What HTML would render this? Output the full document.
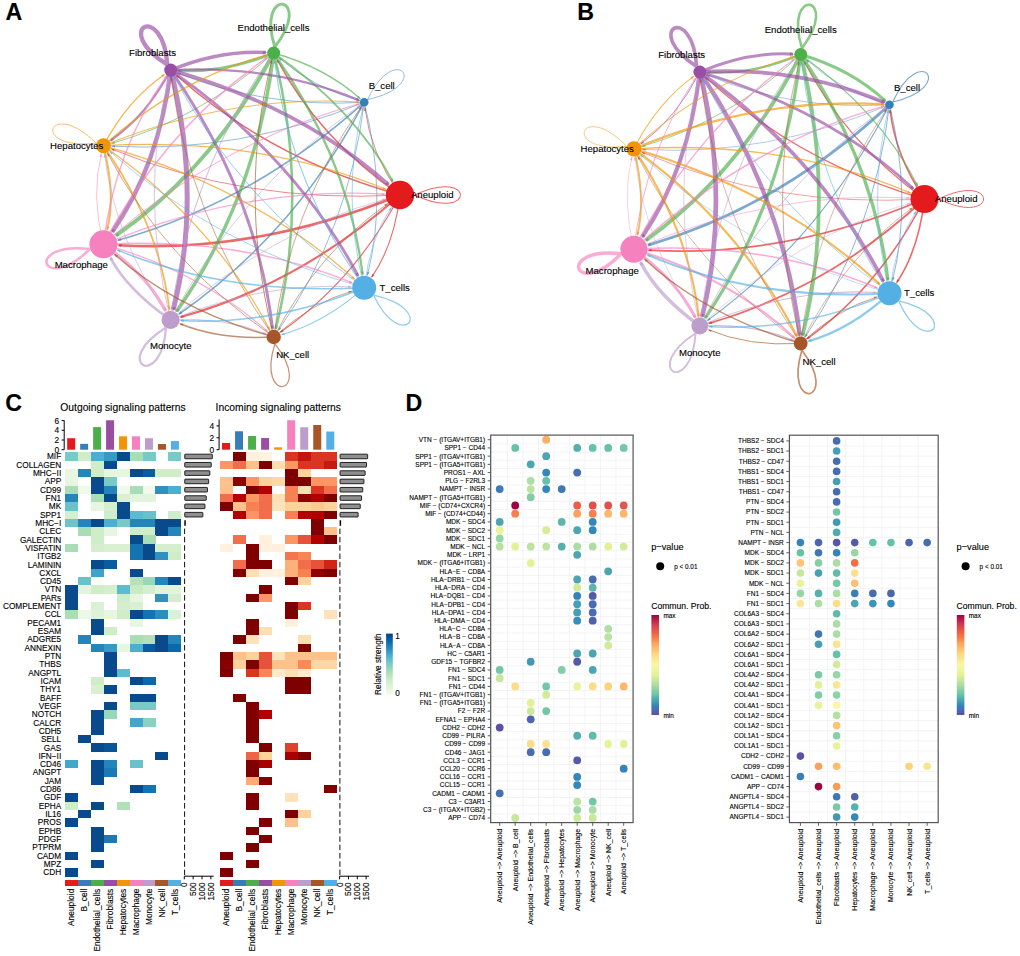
<!DOCTYPE html>
<html><head><meta charset="utf-8"><title>Figure</title>
<style>html,body{margin:0;padding:0;background:#fff}svg{display:block}text{font-family:"Liberation Sans",Arial,sans-serif;stroke:#000;stroke-width:.12px}</style>
</head><body>
<svg width="1020" height="956" viewBox="0 0 1020 956">
<rect width="1020" height="956" fill="#fff"/>
<g id="panelA">
<g opacity="1" stroke-opacity="0.66" fill-opacity="0.66" stroke-linecap="butt"><path d="M414.6 195.0C475.8 166.2 475.8 223.8 414.6 195.0" stroke="#E41A1C" stroke-width="1.01" fill="none"/><path d="M400.0 195.0Q370.3 152.7 364.9 107.8" stroke="#E41A1C" stroke-width="0.80" fill="none"/><path d="M364.7 106.4L366.4 110.6L364.1 110.9Z" fill="#E41A1C"/><path d="M400.0 195.0Q318.8 138.3 277.3 59.8" stroke="#E41A1C" stroke-width="1.45" fill="none"/><path d="M276.6 58.6L279.8 61.9L277.5 63.0Z" fill="#E41A1C"/><path d="M400.0 195.0Q269.4 158.5 176.4 75.3" stroke="#E41A1C" stroke-width="1.45" fill="none"/><path d="M175.3 74.3L179.5 76.3L177.8 78.2Z" fill="#E41A1C"/><path d="M400.0 195.0Q245.4 203.9 111.5 149.0" stroke="#E41A1C" stroke-width="0.80" fill="none"/><path d="M110.2 148.4L114.7 149.0L113.8 151.2Z" fill="#E41A1C"/><path d="M400.0 195.0Q258.0 253.2 118.6 245.2" stroke="#E41A1C" stroke-width="2.63" fill="none"/><path d="M117.2 245.1L121.7 244.0L121.5 246.8Z" fill="#E41A1C"/><path d="M400.0 195.0Q301.2 283.4 180.6 317.1" stroke="#E41A1C" stroke-width="2.09" fill="none"/><path d="M179.2 317.5L183.1 315.0L183.8 317.6Z" fill="#E41A1C"/><path d="M400.0 195.0Q354.9 280.3 280.5 332.2" stroke="#E41A1C" stroke-width="1.12" fill="none"/><path d="M279.4 333.0L282.3 329.5L283.7 331.5Z" fill="#E41A1C"/><path d="M400.0 195.0Q393.9 245.4 371.8 276.9" stroke="#E41A1C" stroke-width="1.12" fill="none"/><path d="M371.0 278.0L372.5 273.7L374.5 275.1Z" fill="#E41A1C"/><path d="M367.6 99.6C394.8 40.5 434.1 84.6 367.6 99.6" stroke="#377EB8" stroke-width="0.80" fill="none"/><path d="M364.2 102.3Q312.7 87.9 279.4 58.1" stroke="#377EB8" stroke-width="0.80" fill="none"/><path d="M278.3 57.2L282.4 59.2L280.8 61.0Z" fill="#377EB8"/><path d="M364.2 102.3Q263.3 108.1 177.8 73.0" stroke="#377EB8" stroke-width="0.80" fill="none"/><path d="M176.5 72.5L181.0 73.1L180.1 75.3Z" fill="#377EB8"/><path d="M364.2 102.3Q239.3 153.5 112.1 146.2" stroke="#377EB8" stroke-width="0.80" fill="none"/><path d="M110.7 146.1L115.2 145.2L115.0 147.5Z" fill="#377EB8"/><path d="M364.2 102.3Q251.9 202.8 118.1 240.2" stroke="#377EB8" stroke-width="1.55" fill="none"/><path d="M116.7 240.6L120.6 238.2L121.3 240.7Z" fill="#377EB8"/><path d="M364.2 102.3Q295.1 233.0 179.1 314.0" stroke="#377EB8" stroke-width="1.55" fill="none"/><path d="M177.9 314.8L180.8 311.2L182.3 313.3Z" fill="#377EB8"/><path d="M364.2 102.3Q348.8 229.9 278.5 330.1" stroke="#377EB8" stroke-width="0.80" fill="none"/><path d="M277.7 331.3L279.2 327.0L281.2 328.4Z" fill="#377EB8"/><path d="M364.2 102.3Q387.8 195.0 367.5 274.9" stroke="#377EB8" stroke-width="0.80" fill="none"/><path d="M367.1 276.3L367.1 271.7L369.4 272.3Z" fill="#377EB8"/><path d="M273.7 53.0Q354.9 109.7 392.8 181.4" stroke="#4DAF4A" stroke-width="1.88" fill="none"/><path d="M393.5 182.6L390.2 179.4L392.6 178.1Z" fill="#4DAF4A"/><path d="M273.7 53.0Q325.2 67.4 360.1 98.6" stroke="#4DAF4A" stroke-width="1.34" fill="none"/><path d="M361.2 99.6L357.1 97.6L358.7 95.7Z" fill="#4DAF4A"/><path d="M274.8 46.8C255.3 -15.0 315.5 -5.0 274.8 46.8" stroke="#4DAF4A" stroke-width="2.96" fill="none"/><path d="M273.7 53.0Q224.3 73.2 178.3 70.6" stroke="#4DAF4A" stroke-width="2.74" fill="none"/><path d="M176.9 70.5L181.4 69.3L181.3 72.2Z" fill="#4DAF4A"/><path d="M273.7 53.0Q200.3 118.6 111.8 143.3" stroke="#4DAF4A" stroke-width="0.91" fill="none"/><path d="M110.5 143.7L114.4 141.4L115.0 143.7Z" fill="#4DAF4A"/><path d="M273.7 53.0Q212.9 167.9 115.9 235.6" stroke="#4DAF4A" stroke-width="3.93" fill="none"/><path d="M114.7 236.4L117.4 232.6L119.2 235.2Z" fill="#4DAF4A"/><path d="M273.7 53.0Q256.1 198.1 176.6 311.4" stroke="#4DAF4A" stroke-width="3.50" fill="none"/><path d="M175.8 312.6L177.0 308.1L179.5 309.9Z" fill="#4DAF4A"/><path d="M273.7 53.0Q309.8 195.0 275.7 328.9" stroke="#4DAF4A" stroke-width="2.53" fill="none"/><path d="M275.4 330.2L275.1 325.6L277.8 326.3Z" fill="#4DAF4A"/><path d="M273.7 53.0Q348.8 160.1 362.6 274.6" stroke="#4DAF4A" stroke-width="2.31" fill="none"/><path d="M362.8 276.0L360.9 271.8L363.7 271.4Z" fill="#4DAF4A"/><path d="M170.7 70.1Q301.2 106.6 388.5 184.7" stroke="#984EA3" stroke-width="3.82" fill="none"/><path d="M389.6 185.7L385.2 183.9L387.3 181.6Z" fill="#984EA3"/><path d="M170.7 70.1Q271.5 64.3 359.1 100.2" stroke="#984EA3" stroke-width="2.31" fill="none"/><path d="M360.4 100.8L355.8 100.4L356.9 97.8Z" fill="#984EA3"/><path d="M170.7 70.1Q220.0 49.9 266.0 52.5" stroke="#984EA3" stroke-width="3.50" fill="none"/><path d="M267.4 52.6L262.9 53.9L263.1 50.9Z" fill="#984EA3"/><path d="M167.3 64.7C110.2 29.1 163.2 0.3 167.3 64.7" stroke="#984EA3" stroke-width="4.36" fill="none"/><path d="M170.7 70.1Q146.6 115.5 110.6 140.7" stroke="#984EA3" stroke-width="2.09" fill="none"/><path d="M109.4 141.5L112.2 137.9L113.8 140.1Z" fill="#984EA3"/><path d="M170.7 70.1Q159.2 164.8 112.2 231.9" stroke="#984EA3" stroke-width="4.36" fill="none"/><path d="M111.3 233.0L112.5 228.5L115.2 230.4Z" fill="#984EA3"/><path d="M170.7 70.1Q202.4 195.0 173.2 309.9" stroke="#984EA3" stroke-width="5.01" fill="none"/><path d="M172.8 311.3L172.3 306.6L175.6 307.4Z" fill="#984EA3"/><path d="M170.7 70.1Q256.1 191.9 272.6 328.7" stroke="#984EA3" stroke-width="2.85" fill="none"/><path d="M272.8 330.1L270.9 325.9L273.7 325.5Z" fill="#984EA3"/><path d="M170.7 70.1Q295.1 157.0 358.1 276.0" stroke="#984EA3" stroke-width="2.96" fill="none"/><path d="M358.7 277.3L355.4 274.0L357.9 272.7Z" fill="#984EA3"/><path d="M103.4 145.7Q258.0 136.8 385.8 189.2" stroke="#F29403" stroke-width="1.23" fill="none"/><path d="M387.0 189.7L382.5 189.2L383.4 186.9Z" fill="#F29403"/><path d="M103.4 145.7Q228.3 94.5 358.7 102.0" stroke="#F29403" stroke-width="1.01" fill="none"/><path d="M360.1 102.1L355.7 103.0L355.8 100.6Z" fill="#F29403"/><path d="M103.4 145.7Q176.7 80.1 266.2 55.1" stroke="#F29403" stroke-width="1.45" fill="none"/><path d="M267.6 54.7L263.7 57.1L263.0 54.6Z" fill="#F29403"/><path d="M103.4 145.7Q127.4 100.3 164.3 74.5" stroke="#F29403" stroke-width="1.45" fill="none"/><path d="M165.5 73.7L162.6 77.3L161.1 75.2Z" fill="#F29403"/><path d="M96.2 143.2C28.2 150.6 49.2 96.4 96.2 143.2" stroke="#F29403" stroke-width="0.91" fill="none"/><path d="M103.4 145.7Q116.0 195.0 107.2 229.6" stroke="#F29403" stroke-width="1.99" fill="none"/><path d="M106.8 230.9L106.6 226.4L109.2 227.0Z" fill="#F29403"/><path d="M103.4 145.7Q159.2 225.2 169.4 309.7" stroke="#F29403" stroke-width="1.77" fill="none"/><path d="M169.6 311.0L167.8 306.8L170.4 306.5Z" fill="#F29403"/><path d="M103.4 145.7Q212.9 222.1 269.7 329.6" stroke="#F29403" stroke-width="1.23" fill="none"/><path d="M270.4 330.8L267.2 327.5L269.4 326.3Z" fill="#F29403"/><path d="M103.4 145.7Q251.9 187.2 354.4 278.9" stroke="#F29403" stroke-width="1.23" fill="none"/><path d="M355.4 279.8L351.3 277.8L353.0 276.0Z" fill="#F29403"/><path d="M103.4 244.3Q245.4 186.1 384.6 194.1" stroke="#F781BF" stroke-width="1.23" fill="none"/><path d="M386.0 194.2L381.6 195.2L381.7 192.7Z" fill="#F781BF"/><path d="M103.4 244.3Q215.8 143.8 358.9 103.8" stroke="#F781BF" stroke-width="1.01" fill="none"/><path d="M360.3 103.4L356.4 105.8L355.7 103.4Z" fill="#F781BF"/><path d="M103.4 244.3Q164.2 129.4 267.3 57.4" stroke="#F781BF" stroke-width="1.55" fill="none"/><path d="M268.5 56.6L265.6 60.2L264.1 58.1Z" fill="#F781BF"/><path d="M103.4 244.3Q114.9 149.6 166.2 76.4" stroke="#F781BF" stroke-width="1.45" fill="none"/><path d="M167.0 75.3L165.5 79.6L163.5 78.1Z" fill="#F781BF"/><path d="M103.4 244.3Q90.9 195.0 101.3 154.1" stroke="#F781BF" stroke-width="0.80" fill="none"/><path d="M101.6 152.8L101.7 157.3L99.4 156.7Z" fill="#F781BF"/><path d="M89.9 249.0C42.9 295.8 21.9 241.6 89.9 249.0" stroke="#F781BF" stroke-width="2.53" fill="none"/><path d="M103.4 244.3Q146.6 274.5 165.8 310.8" stroke="#F781BF" stroke-width="2.96" fill="none"/><path d="M166.5 312.0L163.1 308.8L165.7 307.4Z" fill="#F781BF"/><path d="M103.4 244.3Q200.3 271.4 267.4 331.4" stroke="#F781BF" stroke-width="1.23" fill="none"/><path d="M268.4 332.3L264.3 330.3L266.0 328.5Z" fill="#F781BF"/><path d="M103.4 244.3Q239.3 236.5 352.0 282.7" stroke="#F781BF" stroke-width="1.45" fill="none"/><path d="M353.3 283.2L348.8 282.7L349.7 280.4Z" fill="#F781BF"/><path d="M170.6 319.9Q269.4 231.5 385.2 199.1" stroke="#BC9DCC" stroke-width="0.80" fill="none"/><path d="M386.5 198.8L382.6 201.1L382.0 198.8Z" fill="#BC9DCC"/><path d="M170.6 319.9Q239.8 189.2 359.7 105.5" stroke="#BC9DCC" stroke-width="0.80" fill="none"/><path d="M360.9 104.7L357.9 108.2L356.6 106.2Z" fill="#BC9DCC"/><path d="M170.6 319.9Q188.2 174.8 269.2 59.3" stroke="#BC9DCC" stroke-width="1.01" fill="none"/><path d="M270.0 58.1L268.5 62.5L266.5 61.0Z" fill="#BC9DCC"/><path d="M170.6 319.9Q138.9 195.0 168.8 77.6" stroke="#BC9DCC" stroke-width="0.91" fill="none"/><path d="M169.1 76.2L169.2 80.8L166.8 80.2Z" fill="#BC9DCC"/><path d="M170.6 319.9Q114.9 240.4 104.5 154.3" stroke="#BC9DCC" stroke-width="0.80" fill="none"/><path d="M104.3 152.9L106.0 157.2L103.6 157.4Z" fill="#BC9DCC"/><path d="M170.6 319.9Q127.4 289.7 110.5 257.8" stroke="#BC9DCC" stroke-width="2.74" fill="none"/><path d="M109.9 256.5L113.2 259.7L110.7 261.1Z" fill="#BC9DCC"/><path d="M166.0 327.5C161.9 391.9 108.9 363.1 166.0 327.5" stroke="#BC9DCC" stroke-width="2.26" fill="none"/><path d="M170.6 319.9Q224.3 316.8 265.9 333.8" stroke="#BC9DCC" stroke-width="0.91" fill="none"/><path d="M267.2 334.4L262.6 333.8L263.6 331.6Z" fill="#BC9DCC"/><path d="M170.6 319.9Q263.3 281.9 351.1 286.9" stroke="#BC9DCC" stroke-width="0.91" fill="none"/><path d="M352.4 287.0L348.0 288.0L348.1 285.6Z" fill="#BC9DCC"/><path d="M273.7 337.0Q318.8 251.7 387.4 203.8" stroke="#A65628" stroke-width="0.80" fill="none"/><path d="M388.5 203.0L385.6 206.5L384.2 204.6Z" fill="#A65628"/><path d="M273.7 337.0Q289.1 209.4 361.1 106.8" stroke="#A65628" stroke-width="0.80" fill="none"/><path d="M361.9 105.7L360.3 110.0L358.4 108.6Z" fill="#A65628"/><path d="M273.7 337.0Q237.5 195.0 271.8 60.5" stroke="#A65628" stroke-width="1.01" fill="none"/><path d="M272.1 59.1L272.2 63.7L269.8 63.1Z" fill="#A65628"/><path d="M273.7 337.0Q188.2 215.2 171.6 77.8" stroke="#A65628" stroke-width="0.80" fill="none"/><path d="M171.4 76.4L173.1 80.6L170.7 80.9Z" fill="#A65628"/><path d="M273.7 337.0Q164.2 260.6 107.5 153.4" stroke="#A65628" stroke-width="0.80" fill="none"/><path d="M106.8 152.1L109.9 155.5L107.8 156.6Z" fill="#A65628"/><path d="M273.7 337.0Q176.7 309.9 114.7 254.5" stroke="#A65628" stroke-width="1.45" fill="none"/><path d="M113.7 253.5L117.8 255.5L116.1 257.4Z" fill="#A65628"/><path d="M273.7 337.0Q220.0 340.1 180.2 323.8" stroke="#A65628" stroke-width="1.55" fill="none"/><path d="M178.9 323.3L183.4 323.7L182.5 326.1Z" fill="#A65628"/><path d="M274.9 343.9C315.7 395.7 255.4 405.7 274.9 343.9" stroke="#A65628" stroke-width="1.23" fill="none"/><path d="M273.7 337.0Q312.7 302.1 351.5 291.2" stroke="#A65628" stroke-width="0.80" fill="none"/><path d="M352.9 290.9L348.9 293.2L348.3 290.9Z" fill="#A65628"/><path d="M364.2 287.7Q370.3 237.3 391.2 207.6" stroke="#54B0E4" stroke-width="0.80" fill="none"/><path d="M392.0 206.5L390.4 210.7L388.5 209.4Z" fill="#54B0E4"/><path d="M364.2 287.7Q340.6 195.0 362.9 107.6" stroke="#54B0E4" stroke-width="0.80" fill="none"/><path d="M363.2 106.3L363.3 110.8L361.0 110.3Z" fill="#54B0E4"/><path d="M364.2 287.7Q289.1 180.6 274.6 60.6" stroke="#54B0E4" stroke-width="1.01" fill="none"/><path d="M274.4 59.2L276.1 63.5L273.7 63.8Z" fill="#54B0E4"/><path d="M364.2 287.7Q239.8 200.8 174.2 76.9" stroke="#54B0E4" stroke-width="0.91" fill="none"/><path d="M173.6 75.7L176.7 79.0L174.6 80.1Z" fill="#54B0E4"/><path d="M364.2 287.7Q215.8 246.2 109.9 151.5" stroke="#54B0E4" stroke-width="0.80" fill="none"/><path d="M108.9 150.5L112.9 152.6L111.3 154.4Z" fill="#54B0E4"/><path d="M364.2 287.7Q228.3 295.5 117.5 250.1" stroke="#54B0E4" stroke-width="1.55" fill="none"/><path d="M116.2 249.6L120.7 250.0L119.8 252.4Z" fill="#54B0E4"/><path d="M364.2 287.7Q271.5 325.7 180.9 320.5" stroke="#54B0E4" stroke-width="1.55" fill="none"/><path d="M179.5 320.4L184.0 319.4L183.9 321.9Z" fill="#54B0E4"/><path d="M364.2 287.7Q325.2 322.6 281.7 334.7" stroke="#54B0E4" stroke-width="1.12" fill="none"/><path d="M280.4 335.1L284.3 332.8L285.0 335.1Z" fill="#54B0E4"/><path d="M373.7 295.2C440.2 310.2 400.9 354.3 373.7 295.2" stroke="#54B0E4" stroke-width="1.23" fill="none"/></g>
<circle cx="400.0" cy="195.0" r="14.2" fill="#E41A1C"/>
<circle cx="364.2" cy="102.3" r="4.3" fill="#377EB8"/>
<circle cx="273.7" cy="53.0" r="6.5" fill="#4DAF4A"/>
<circle cx="170.7" cy="70.1" r="6.5" fill="#984EA3"/>
<circle cx="103.4" cy="145.7" r="7.5" fill="#F29403"/>
<circle cx="103.4" cy="244.3" r="14" fill="#F781BF"/>
<circle cx="170.6" cy="319.9" r="9.1" fill="#BC9DCC"/>
<circle cx="273.7" cy="337.0" r="7.2" fill="#A65628"/>
<circle cx="364.2" cy="287.7" r="12" fill="#54B0E4"/>
<text x="432.3" y="198" font-size="9.6" text-anchor="middle" fill="#000">Aneuploid</text>
<text x="381.7" y="88.5" font-size="9.6" text-anchor="middle" fill="#000">B_cell</text>
<text x="273.5" y="31" font-size="9.6" text-anchor="middle" fill="#000">Endothelial_cells</text>
<text x="152.5" y="55.5" font-size="9.6" text-anchor="middle" fill="#000">Fibroblasts</text>
<text x="76.7" y="148.5" font-size="9.6" text-anchor="middle" fill="#000">Hepatocytes</text>
<text x="81.3" y="268" font-size="9.6" text-anchor="middle" fill="#000">Macrophage</text>
<text x="170.7" y="349" font-size="9.6" text-anchor="middle" fill="#000">Monocyte</text>
<text x="292.7" y="358" font-size="9.6" text-anchor="middle" fill="#000">NK_cell</text>
<text x="394.7" y="290.5" font-size="9.6" text-anchor="middle" fill="#000">T_cells</text>
</g>
<g id="panelB">
<g opacity="1" stroke-opacity="0.66" fill-opacity="0.66" stroke-linecap="butt"><path d="M938.6 199.0C998.6 169.7 998.6 228.3 938.6 199.0" stroke="#E41A1C" stroke-width="0.99" fill="none"/><path d="M924.5 199.0Q895.4 156.0 890.1 110.2" stroke="#E41A1C" stroke-width="1.59" fill="none"/><path d="M889.9 108.8L891.7 113.0L889.2 113.3Z" fill="#E41A1C"/><path d="M924.5 199.0Q844.9 141.3 804.2 61.4" stroke="#E41A1C" stroke-width="1.11" fill="none"/><path d="M803.6 60.1L806.7 63.5L804.5 64.6Z" fill="#E41A1C"/><path d="M924.5 199.0Q796.6 161.9 705.4 77.1" stroke="#E41A1C" stroke-width="1.11" fill="none"/><path d="M704.3 76.2L708.4 78.3L706.7 80.1Z" fill="#E41A1C"/><path d="M924.5 199.0Q773.1 208.1 642.0 152.3" stroke="#E41A1C" stroke-width="0.63" fill="none"/><path d="M640.7 151.7L645.3 152.4L644.3 154.5Z" fill="#E41A1C"/><path d="M924.5 199.0Q785.4 258.2 648.6 250.1" stroke="#E41A1C" stroke-width="1.71" fill="none"/><path d="M647.2 250.0L651.7 248.9L651.5 251.5Z" fill="#E41A1C"/><path d="M924.5 199.0Q827.7 288.9 709.0 323.4" stroke="#E41A1C" stroke-width="1.71" fill="none"/><path d="M707.7 323.8L711.5 321.3L712.3 323.8Z" fill="#E41A1C"/><path d="M924.5 199.0Q880.3 285.8 807.3 338.7" stroke="#E41A1C" stroke-width="1.59" fill="none"/><path d="M806.1 339.5L808.9 335.9L810.5 338.0Z" fill="#E41A1C"/><path d="M924.5 199.0Q918.5 250.3 896.8 282.4" stroke="#E41A1C" stroke-width="1.59" fill="none"/><path d="M896.1 283.5L897.5 279.2L899.6 280.6Z" fill="#E41A1C"/><path d="M892.8 102.0C919.4 41.8 957.9 86.7 892.8 102.0" stroke="#377EB8" stroke-width="1.11" fill="none"/><path d="M889.5 104.7Q838.9 90.0 806.4 59.8" stroke="#377EB8" stroke-width="0.63" fill="none"/><path d="M805.3 58.8L809.4 61.0L807.8 62.7Z" fill="#377EB8"/><path d="M889.5 104.7Q790.6 110.6 706.8 74.9" stroke="#377EB8" stroke-width="0.63" fill="none"/><path d="M705.5 74.4L710.0 75.0L709.1 77.2Z" fill="#377EB8"/><path d="M889.5 104.7Q767.1 156.8 642.7 149.4" stroke="#377EB8" stroke-width="0.60" fill="none"/><path d="M641.3 149.3L645.8 148.4L645.6 150.7Z" fill="#377EB8"/><path d="M889.5 104.7Q779.4 207.0 648.1 245.1" stroke="#377EB8" stroke-width="2.91" fill="none"/><path d="M646.7 245.5L650.5 242.9L651.3 245.6Z" fill="#377EB8"/><path d="M889.5 104.7Q821.7 237.7 707.6 320.4" stroke="#377EB8" stroke-width="1.11" fill="none"/><path d="M706.4 321.2L709.3 317.7L710.7 319.7Z" fill="#377EB8"/><path d="M889.5 104.7Q874.3 234.5 805.2 336.8" stroke="#377EB8" stroke-width="0.87" fill="none"/><path d="M804.5 337.9L805.9 333.6L807.9 334.9Z" fill="#377EB8"/><path d="M889.5 104.7Q912.6 199.0 892.6 280.5" stroke="#377EB8" stroke-width="0.87" fill="none"/><path d="M892.3 281.8L892.1 277.3L894.5 277.8Z" fill="#377EB8"/><path d="M800.7 54.5Q880.3 112.2 917.6 185.5" stroke="#4DAF4A" stroke-width="1.11" fill="none"/><path d="M918.2 186.7L915.1 183.3L917.3 182.2Z" fill="#4DAF4A"/><path d="M800.7 54.5Q851.2 69.2 885.4 101.0" stroke="#4DAF4A" stroke-width="2.91" fill="none"/><path d="M886.4 101.9L882.2 100.0L884.2 97.9Z" fill="#4DAF4A"/><path d="M801.9 48.2C782.8 -14.7 841.8 -4.5 801.9 48.2" stroke="#4DAF4A" stroke-width="2.55" fill="none"/><path d="M800.7 54.5Q752.4 75.1 707.4 72.4" stroke="#4DAF4A" stroke-width="2.31" fill="none"/><path d="M706.0 72.3L710.5 71.2L710.3 74.0Z" fill="#4DAF4A"/><path d="M800.7 54.5Q728.9 121.3 642.4 146.4" stroke="#4DAF4A" stroke-width="0.87" fill="none"/><path d="M641.0 146.8L644.9 144.4L645.6 146.7Z" fill="#4DAF4A"/><path d="M800.7 54.5Q741.2 171.5 645.8 240.5" stroke="#4DAF4A" stroke-width="3.75" fill="none"/><path d="M644.7 241.4L647.4 237.5L649.2 240.0Z" fill="#4DAF4A"/><path d="M800.7 54.5Q783.5 202.1 705.2 318.1" stroke="#4DAF4A" stroke-width="3.15" fill="none"/><path d="M704.4 319.3L705.6 314.8L708.1 316.4Z" fill="#4DAF4A"/><path d="M800.7 54.5Q836.1 199.0 802.6 335.6" stroke="#4DAF4A" stroke-width="3.75" fill="none"/><path d="M802.3 337.0L801.8 332.3L804.9 333.1Z" fill="#4DAF4A"/><path d="M800.7 54.5Q874.3 163.5 887.9 280.2" stroke="#4DAF4A" stroke-width="3.27" fill="none"/><path d="M888.1 281.6L886.1 277.4L889.1 277.0Z" fill="#4DAF4A"/><path d="M699.8 72.0Q827.7 109.1 913.4 188.7" stroke="#984EA3" stroke-width="2.79" fill="none"/><path d="M914.4 189.6L910.2 187.7L912.1 185.6Z" fill="#984EA3"/><path d="M699.8 72.0Q798.6 66.0 884.4 102.5" stroke="#984EA3" stroke-width="3.75" fill="none"/><path d="M885.7 103.1L881.0 102.8L882.2 99.9Z" fill="#984EA3"/><path d="M699.8 72.0Q748.1 51.4 793.0 54.1" stroke="#984EA3" stroke-width="3.15" fill="none"/><path d="M794.4 54.2L789.9 55.4L790.1 52.4Z" fill="#984EA3"/><path d="M696.6 66.5C640.7 30.3 692.6 1.0 696.6 66.5" stroke="#984EA3" stroke-width="3.63" fill="none"/><path d="M699.8 72.0Q676.3 118.1 641.1 143.7" stroke="#984EA3" stroke-width="0.99" fill="none"/><path d="M639.9 144.5L642.8 140.9L644.2 142.9Z" fill="#984EA3"/><path d="M699.8 72.0Q688.6 168.3 642.2 237.0" stroke="#984EA3" stroke-width="4.11" fill="none"/><path d="M641.4 238.2L642.5 233.6L645.2 235.4Z" fill="#984EA3"/><path d="M699.8 72.0Q730.9 199.0 702.1 316.7" stroke="#984EA3" stroke-width="4.71" fill="none"/><path d="M701.8 318.1L701.2 313.4L704.4 314.2Z" fill="#984EA3"/><path d="M699.8 72.0Q783.5 195.9 799.8 335.4" stroke="#984EA3" stroke-width="4.35" fill="none"/><path d="M799.9 336.8L797.8 332.6L801.0 332.3Z" fill="#984EA3"/><path d="M699.8 72.0Q821.7 160.3 883.5 281.5" stroke="#984EA3" stroke-width="3.75" fill="none"/><path d="M884.1 282.8L880.7 279.6L883.5 278.2Z" fill="#984EA3"/><path d="M633.9 148.8Q785.4 139.8 910.5 193.0" stroke="#F29403" stroke-width="1.35" fill="none"/><path d="M911.8 193.6L907.3 193.0L908.2 190.7Z" fill="#F29403"/><path d="M633.9 148.8Q756.3 96.7 884.0 104.4" stroke="#F29403" stroke-width="2.31" fill="none"/><path d="M885.4 104.5L880.9 105.6L881.1 102.8Z" fill="#F29403"/><path d="M633.9 148.8Q705.8 82.1 793.3 56.7" stroke="#F29403" stroke-width="1.11" fill="none"/><path d="M794.7 56.3L790.8 58.7L790.1 56.3Z" fill="#F29403"/><path d="M633.9 148.8Q657.4 102.6 693.6 76.4" stroke="#F29403" stroke-width="1.11" fill="none"/><path d="M694.8 75.6L691.9 79.2L690.5 77.2Z" fill="#F29403"/><path d="M626.7 146.3C560.2 153.8 580.7 98.6 626.7 146.3" stroke="#F29403" stroke-width="0.75" fill="none"/><path d="M633.9 148.8Q646.2 199.0 637.4 234.9" stroke="#F29403" stroke-width="1.83" fill="none"/><path d="M637.1 236.3L636.9 231.7L639.4 232.3Z" fill="#F29403"/><path d="M633.9 148.8Q688.6 229.7 698.7 316.5" stroke="#F29403" stroke-width="2.07" fill="none"/><path d="M698.9 317.9L697.0 313.7L699.7 313.4Z" fill="#F29403"/><path d="M633.9 148.8Q741.2 226.5 797.0 336.3" stroke="#F29403" stroke-width="2.19" fill="none"/><path d="M797.7 337.5L794.5 334.2L796.9 333.0Z" fill="#F29403"/><path d="M633.9 148.8Q779.4 191.0 879.8 284.3" stroke="#F29403" stroke-width="2.07" fill="none"/><path d="M880.8 285.3L876.7 283.3L878.5 281.3Z" fill="#F29403"/><path d="M633.9 249.2Q773.1 189.9 909.3 198.1" stroke="#F781BF" stroke-width="0.75" fill="none"/><path d="M910.7 198.2L906.3 199.1L906.4 196.7Z" fill="#F781BF"/><path d="M633.9 249.2Q744.0 146.9 884.2 106.2" stroke="#F781BF" stroke-width="1.35" fill="none"/><path d="M885.5 105.8L881.6 108.3L880.9 105.9Z" fill="#F781BF"/><path d="M633.9 249.2Q693.5 132.3 794.5 59.0" stroke="#F781BF" stroke-width="1.23" fill="none"/><path d="M795.6 58.2L792.8 61.8L791.3 59.8Z" fill="#F781BF"/><path d="M633.9 249.2Q645.2 152.8 695.5 78.3" stroke="#F781BF" stroke-width="0.99" fill="none"/><path d="M696.3 77.1L694.9 81.4L692.9 80.1Z" fill="#F781BF"/><path d="M633.9 249.2Q621.6 199.0 631.8 157.4" stroke="#F781BF" stroke-width="0.60" fill="none"/><path d="M632.2 156.0L632.3 160.6L630.0 160.0Z" fill="#F781BF"/><path d="M621.1 253.7C575.1 301.4 554.6 246.2 621.1 253.7" stroke="#F781BF" stroke-width="3.39" fill="none"/><path d="M633.9 249.2Q676.3 279.9 695.4 317.5" stroke="#F781BF" stroke-width="2.79" fill="none"/><path d="M696.1 318.7L692.8 315.5L695.4 314.2Z" fill="#F781BF"/><path d="M633.9 249.2Q728.9 276.7 794.8 338.0" stroke="#F781BF" stroke-width="2.07" fill="none"/><path d="M795.8 338.9L791.7 336.9L793.5 334.9Z" fill="#F781BF"/><path d="M633.9 249.2Q767.1 241.2 877.3 288.1" stroke="#F781BF" stroke-width="1.59" fill="none"/><path d="M878.6 288.7L874.0 288.1L875.1 285.8Z" fill="#F781BF"/><path d="M699.8 326.0Q796.6 236.1 909.9 203.2" stroke="#BC9DCC" stroke-width="0.63" fill="none"/><path d="M911.2 202.8L907.3 205.2L906.7 202.9Z" fill="#BC9DCC"/><path d="M699.8 326.0Q767.5 193.1 885.0 107.9" stroke="#BC9DCC" stroke-width="0.87" fill="none"/><path d="M886.1 107.1L883.3 110.7L881.9 108.7Z" fill="#BC9DCC"/><path d="M699.8 326.0Q717.0 178.4 796.4 60.9" stroke="#BC9DCC" stroke-width="0.87" fill="none"/><path d="M797.2 59.7L795.7 64.1L793.7 62.7Z" fill="#BC9DCC"/><path d="M699.8 326.0Q668.7 199.0 698.0 79.3" stroke="#BC9DCC" stroke-width="0.75" fill="none"/><path d="M698.3 78.0L698.4 82.5L696.1 82.0Z" fill="#BC9DCC"/><path d="M699.8 326.0Q645.2 245.2 635.0 157.6" stroke="#BC9DCC" stroke-width="0.60" fill="none"/><path d="M634.8 156.2L636.5 160.4L634.1 160.7Z" fill="#BC9DCC"/><path d="M699.8 326.0Q657.4 295.4 640.6 262.3" stroke="#BC9DCC" stroke-width="3.51" fill="none"/><path d="M640.0 261.0L643.3 264.3L640.6 265.6Z" fill="#BC9DCC"/><path d="M695.6 333.2C691.5 398.7 639.6 369.4 695.6 333.2" stroke="#BC9DCC" stroke-width="1.95" fill="none"/><path d="M699.8 326.0Q752.4 322.9 793.3 340.3" stroke="#BC9DCC" stroke-width="1.23" fill="none"/><path d="M794.5 340.8L790.0 340.3L791.0 338.0Z" fill="#BC9DCC"/><path d="M699.8 326.0Q790.6 287.4 876.3 292.5" stroke="#BC9DCC" stroke-width="1.11" fill="none"/><path d="M877.7 292.6L873.2 293.6L873.4 291.1Z" fill="#BC9DCC"/><path d="M800.7 343.5Q844.9 256.7 912.2 207.9" stroke="#A65628" stroke-width="0.63" fill="none"/><path d="M913.3 207.1L910.5 210.6L909.1 208.7Z" fill="#A65628"/><path d="M800.7 343.5Q815.8 213.7 886.4 109.3" stroke="#A65628" stroke-width="0.63" fill="none"/><path d="M887.2 108.1L885.7 112.4L883.7 111.1Z" fill="#A65628"/><path d="M800.7 343.5Q765.3 199.0 798.9 62.0" stroke="#A65628" stroke-width="0.75" fill="none"/><path d="M799.2 60.6L799.3 65.2L797.0 64.6Z" fill="#A65628"/><path d="M800.7 343.5Q717.0 219.6 700.7 79.5" stroke="#A65628" stroke-width="0.63" fill="none"/><path d="M700.5 78.1L702.2 82.3L699.9 82.6Z" fill="#A65628"/><path d="M800.7 343.5Q693.5 265.7 637.9 156.7" stroke="#A65628" stroke-width="0.60" fill="none"/><path d="M637.3 155.4L640.3 158.8L638.2 159.9Z" fill="#A65628"/><path d="M800.7 343.5Q705.8 315.9 644.7 259.2" stroke="#A65628" stroke-width="1.35" fill="none"/><path d="M643.7 258.2L647.8 260.3L646.0 262.1Z" fill="#A65628"/><path d="M800.7 343.5Q748.1 346.6 708.6 329.8" stroke="#A65628" stroke-width="0.99" fill="none"/><path d="M707.3 329.3L711.9 329.9L710.9 332.1Z" fill="#A65628"/><path d="M801.9 350.2C841.8 402.9 782.8 413.1 801.9 350.2" stroke="#A65628" stroke-width="1.71" fill="none"/><path d="M800.7 343.5Q838.9 308.0 876.8 297.0" stroke="#A65628" stroke-width="0.87" fill="none"/><path d="M878.1 296.6L874.2 299.0L873.6 296.7Z" fill="#A65628"/><path d="M889.5 293.3Q895.4 242.0 916.0 211.6" stroke="#54B0E4" stroke-width="0.75" fill="none"/><path d="M916.8 210.4L915.3 214.7L913.3 213.4Z" fill="#54B0E4"/><path d="M889.5 293.3Q866.3 199.0 888.1 110.0" stroke="#54B0E4" stroke-width="0.75" fill="none"/><path d="M888.5 108.7L888.6 113.2L886.3 112.7Z" fill="#54B0E4"/><path d="M889.5 293.3Q815.8 184.3 801.6 62.2" stroke="#54B0E4" stroke-width="0.87" fill="none"/><path d="M801.4 60.8L803.1 65.0L800.8 65.3Z" fill="#54B0E4"/><path d="M889.5 293.3Q767.5 204.9 703.2 78.7" stroke="#54B0E4" stroke-width="0.75" fill="none"/><path d="M702.6 77.5L705.7 80.9L703.5 81.9Z" fill="#54B0E4"/><path d="M889.5 293.3Q744.0 251.1 640.4 154.8" stroke="#54B0E4" stroke-width="0.60" fill="none"/><path d="M639.4 153.9L643.4 156.0L641.8 157.7Z" fill="#54B0E4"/><path d="M889.5 293.3Q756.3 301.3 647.5 254.9" stroke="#54B0E4" stroke-width="2.07" fill="none"/><path d="M646.2 254.4L650.7 254.9L649.7 257.3Z" fill="#54B0E4"/><path d="M889.5 293.3Q798.6 332.0 709.4 326.6" stroke="#54B0E4" stroke-width="1.35" fill="none"/><path d="M708.0 326.5L712.5 325.5L712.3 328.1Z" fill="#54B0E4"/><path d="M889.5 293.3Q851.2 328.8 808.5 341.2" stroke="#54B0E4" stroke-width="2.31" fill="none"/><path d="M807.1 341.6L811.0 339.1L811.8 341.7Z" fill="#54B0E4"/><path d="M898.7 300.9C963.9 316.2 925.4 361.1 898.7 300.9" stroke="#54B0E4" stroke-width="1.35" fill="none"/></g>
<circle cx="924.5" cy="199.0" r="14" fill="#E41A1C"/>
<circle cx="889.5" cy="104.7" r="4.3" fill="#377EB8"/>
<circle cx="800.7" cy="54.5" r="6.5" fill="#4DAF4A"/>
<circle cx="699.8" cy="72.0" r="6.4" fill="#984EA3"/>
<circle cx="633.9" cy="148.8" r="7.6" fill="#F29403"/>
<circle cx="633.9" cy="249.2" r="13.5" fill="#F781BF"/>
<circle cx="699.8" cy="326.0" r="8.4" fill="#BC9DCC"/>
<circle cx="800.7" cy="343.5" r="6.9" fill="#A65628"/>
<circle cx="889.5" cy="293.3" r="12" fill="#54B0E4"/>
<text x="956.2" y="201.5" font-size="9.6" text-anchor="middle" fill="#000">Aneuploid</text>
<text x="907" y="91" font-size="9.6" text-anchor="middle" fill="#000">B_cell</text>
<text x="800.7" y="32.5" font-size="9.6" text-anchor="middle" fill="#000">Endothelial_cells</text>
<text x="681.7" y="57.5" font-size="9.6" text-anchor="middle" fill="#000">Fibroblasts</text>
<text x="607.2" y="151.5" font-size="9.6" text-anchor="middle" fill="#000">Hepatocytes</text>
<text x="612.2" y="273.5" font-size="9.6" text-anchor="middle" fill="#000">Macrophage</text>
<text x="699.7" y="355.5" font-size="9.6" text-anchor="middle" fill="#000">Monocyte</text>
<text x="819" y="364.5" font-size="9.6" text-anchor="middle" fill="#000">NK_cell</text>
<text x="919.2" y="296" font-size="9.6" text-anchor="middle" fill="#000">T_cells</text>
</g>
<text x="5.4" y="20" font-size="23.2" font-weight="bold" fill="#000">A</text>
<text x="577.2" y="20" font-size="23.2" font-weight="bold" fill="#000">B</text>
<text x="5.2" y="411.2" font-size="23.2" font-weight="bold" fill="#000">C</text>
<text x="405.6" y="410.9" font-size="23.2" font-weight="bold" fill="#000">D</text>
<g shape-rendering="crispEdges"><rect x="64.70" y="452.30" width="13.02" height="8.37" fill="#77cac6"/><rect x="77.67" y="452.30" width="13.02" height="8.37" fill="#d0edc9"/><rect x="90.63" y="452.30" width="13.02" height="8.37" fill="#4bafd1"/><rect x="103.60" y="452.30" width="13.02" height="8.37" fill="#379ac5"/><rect x="116.57" y="452.30" width="13.02" height="8.37" fill="#084a8c"/><rect x="129.53" y="452.30" width="13.02" height="8.37" fill="#a8ddb5"/><rect x="142.50" y="452.30" width="13.02" height="8.37" fill="#77cac6"/><rect x="168.43" y="452.30" width="13.02" height="8.37" fill="#77cac6"/><rect x="90.63" y="460.62" width="13.02" height="8.37" fill="#d0edc9"/><rect x="103.60" y="460.62" width="13.02" height="8.37" fill="#084a8c"/><rect x="64.70" y="468.94" width="13.02" height="8.37" fill="#e7f6e1"/><rect x="77.67" y="468.94" width="13.02" height="8.37" fill="#2485ba"/><rect x="90.63" y="468.94" width="13.02" height="8.37" fill="#d0edc9"/><rect x="103.60" y="468.94" width="13.02" height="8.37" fill="#e7f6e1"/><rect x="116.57" y="468.94" width="13.02" height="8.37" fill="#e7f6e1"/><rect x="129.53" y="468.94" width="13.02" height="8.37" fill="#084a8c"/><rect x="142.50" y="468.94" width="13.02" height="8.37" fill="#085da0"/><rect x="155.47" y="468.94" width="13.02" height="8.37" fill="#d0edc9"/><rect x="168.43" y="468.94" width="13.02" height="8.37" fill="#d0edc9"/><rect x="64.70" y="477.25" width="13.02" height="8.37" fill="#e7f6e1"/><rect x="90.63" y="477.25" width="13.02" height="8.37" fill="#084a8c"/><rect x="103.60" y="477.25" width="13.02" height="8.37" fill="#77cac6"/><rect x="64.70" y="485.57" width="13.02" height="8.37" fill="#a8ddb5"/><rect x="77.67" y="485.57" width="13.02" height="8.37" fill="#f0f9ea"/><rect x="90.63" y="485.57" width="13.02" height="8.37" fill="#084a8c"/><rect x="103.60" y="485.57" width="13.02" height="8.37" fill="#2485ba"/><rect x="116.57" y="485.57" width="13.02" height="8.37" fill="#f0f9ea"/><rect x="129.53" y="485.57" width="13.02" height="8.37" fill="#a8ddb5"/><rect x="142.50" y="485.57" width="13.02" height="8.37" fill="#f0f9ea"/><rect x="155.47" y="485.57" width="13.02" height="8.37" fill="#3091c1"/><rect x="168.43" y="485.57" width="13.02" height="8.37" fill="#4bafd1"/><rect x="64.70" y="493.89" width="13.02" height="8.37" fill="#2485ba"/><rect x="90.63" y="493.89" width="13.02" height="8.37" fill="#a8ddb5"/><rect x="103.60" y="493.89" width="13.02" height="8.37" fill="#084a8c"/><rect x="116.57" y="493.89" width="13.02" height="8.37" fill="#d9f0d3"/><rect x="129.53" y="493.89" width="13.02" height="8.37" fill="#e2f4dd"/><rect x="142.50" y="493.89" width="13.02" height="8.37" fill="#e2f4dd"/><rect x="64.70" y="502.21" width="13.02" height="8.37" fill="#69c2ca"/><rect x="90.63" y="502.21" width="13.02" height="8.37" fill="#e7f6e1"/><rect x="103.60" y="502.21" width="13.02" height="8.37" fill="#d4eece"/><rect x="116.57" y="502.21" width="13.02" height="8.37" fill="#084a8c"/><rect x="64.70" y="510.52" width="13.02" height="8.37" fill="#d4eece"/><rect x="103.60" y="510.52" width="13.02" height="8.37" fill="#d0edc9"/><rect x="116.57" y="510.52" width="13.02" height="8.37" fill="#084a8c"/><rect x="129.53" y="510.52" width="13.02" height="8.37" fill="#5cbbce"/><rect x="142.50" y="510.52" width="13.02" height="8.37" fill="#69c2ca"/><rect x="168.43" y="510.52" width="13.02" height="8.37" fill="#d0edc9"/><rect x="64.70" y="518.84" width="13.02" height="8.37" fill="#6ec4c8"/><rect x="77.67" y="518.84" width="13.02" height="8.37" fill="#2485ba"/><rect x="90.63" y="518.84" width="13.02" height="8.37" fill="#084a8c"/><rect x="103.60" y="518.84" width="13.02" height="8.37" fill="#4bafd1"/><rect x="116.57" y="518.84" width="13.02" height="8.37" fill="#77cac6"/><rect x="129.53" y="518.84" width="13.02" height="8.37" fill="#2485ba"/><rect x="142.50" y="518.84" width="13.02" height="8.37" fill="#2485ba"/><rect x="155.47" y="518.84" width="13.02" height="8.37" fill="#084a8c"/><rect x="168.43" y="518.84" width="13.02" height="8.37" fill="#084a8c"/><rect x="77.67" y="527.16" width="13.02" height="8.37" fill="#a8ddb5"/><rect x="90.63" y="527.16" width="13.02" height="8.37" fill="#d0edc9"/><rect x="103.60" y="527.16" width="13.02" height="8.37" fill="#e7f6e1"/><rect x="129.53" y="527.16" width="13.02" height="8.37" fill="#d0edc9"/><rect x="142.50" y="527.16" width="13.02" height="8.37" fill="#d0edc9"/><rect x="155.47" y="527.16" width="13.02" height="8.37" fill="#084a8c"/><rect x="168.43" y="527.16" width="13.02" height="8.37" fill="#2485ba"/><rect x="90.63" y="535.48" width="13.02" height="8.37" fill="#d0edc9"/><rect x="129.53" y="535.48" width="13.02" height="8.37" fill="#084a8c"/><rect x="142.50" y="535.48" width="13.02" height="8.37" fill="#a8ddb5"/><rect x="64.70" y="543.79" width="13.02" height="8.37" fill="#a8ddb5"/><rect x="90.63" y="543.79" width="13.02" height="8.37" fill="#d4eece"/><rect x="103.60" y="543.79" width="13.02" height="8.37" fill="#d9f0d3"/><rect x="116.57" y="543.79" width="13.02" height="8.37" fill="#d9f0d3"/><rect x="129.53" y="543.79" width="13.02" height="8.37" fill="#1474b2"/><rect x="142.50" y="543.79" width="13.02" height="8.37" fill="#084a8c"/><rect x="155.47" y="543.79" width="13.02" height="8.37" fill="#d4eece"/><rect x="168.43" y="543.79" width="13.02" height="8.37" fill="#d4eece"/><rect x="129.53" y="552.11" width="13.02" height="8.37" fill="#1474b2"/><rect x="142.50" y="552.11" width="13.02" height="8.37" fill="#084a8c"/><rect x="155.47" y="552.11" width="13.02" height="8.37" fill="#3091c1"/><rect x="168.43" y="552.11" width="13.02" height="8.37" fill="#d0edc9"/><rect x="90.63" y="560.43" width="13.02" height="8.37" fill="#084a8c"/><rect x="103.60" y="560.43" width="13.02" height="8.37" fill="#085da0"/><rect x="90.63" y="568.75" width="13.02" height="8.37" fill="#3fa2ca"/><rect x="129.53" y="568.75" width="13.02" height="8.37" fill="#084a8c"/><rect x="77.67" y="577.06" width="13.02" height="8.37" fill="#69c2ca"/><rect x="129.53" y="577.06" width="13.02" height="8.37" fill="#b5e2bb"/><rect x="142.50" y="577.06" width="13.02" height="8.37" fill="#99d7ba"/><rect x="155.47" y="577.06" width="13.02" height="8.37" fill="#2485ba"/><rect x="168.43" y="577.06" width="13.02" height="8.37" fill="#084a8c"/><rect x="64.70" y="585.38" width="13.02" height="8.37" fill="#084a8c"/><rect x="77.67" y="585.38" width="13.02" height="8.37" fill="#e2f4dd"/><rect x="90.63" y="585.38" width="13.02" height="8.37" fill="#d0edc9"/><rect x="103.60" y="585.38" width="13.02" height="8.37" fill="#d4eece"/><rect x="116.57" y="585.38" width="13.02" height="8.37" fill="#5cbbce"/><rect x="129.53" y="585.38" width="13.02" height="8.37" fill="#cbeac4"/><rect x="142.50" y="585.38" width="13.02" height="8.37" fill="#d4eece"/><rect x="155.47" y="585.38" width="13.02" height="8.37" fill="#e2f4dd"/><rect x="168.43" y="585.38" width="13.02" height="8.37" fill="#e2f4dd"/><rect x="64.70" y="593.70" width="13.02" height="8.37" fill="#084a8c"/><rect x="116.57" y="593.70" width="13.02" height="8.37" fill="#d0edc9"/><rect x="129.53" y="593.70" width="13.02" height="8.37" fill="#e7f6e1"/><rect x="155.47" y="593.70" width="13.02" height="8.37" fill="#3091c1"/><rect x="168.43" y="593.70" width="13.02" height="8.37" fill="#d4eece"/><rect x="64.70" y="602.02" width="13.02" height="8.37" fill="#084a8c"/><rect x="90.63" y="602.02" width="13.02" height="8.37" fill="#dbf1d6"/><rect x="116.57" y="602.02" width="13.02" height="8.37" fill="#d4eece"/><rect x="129.53" y="602.02" width="13.02" height="8.37" fill="#d9f0d3"/><rect x="64.70" y="610.34" width="13.02" height="8.37" fill="#a8ddb5"/><rect x="77.67" y="610.34" width="13.02" height="8.37" fill="#ecf8e6"/><rect x="90.63" y="610.34" width="13.02" height="8.37" fill="#ddf2d8"/><rect x="103.60" y="610.34" width="13.02" height="8.37" fill="#e7f6e1"/><rect x="116.57" y="610.34" width="13.02" height="8.37" fill="#d0edc9"/><rect x="129.53" y="610.34" width="13.02" height="8.37" fill="#084a8c"/><rect x="142.50" y="610.34" width="13.02" height="8.37" fill="#1474b2"/><rect x="155.47" y="610.34" width="13.02" height="8.37" fill="#2c8dbe"/><rect x="168.43" y="610.34" width="13.02" height="8.37" fill="#dbf1d6"/><rect x="90.63" y="618.65" width="13.02" height="8.37" fill="#084a8c"/><rect x="129.53" y="618.65" width="13.02" height="8.37" fill="#e7f6e1"/><rect x="90.63" y="626.97" width="13.02" height="8.37" fill="#084a8c"/><rect x="103.60" y="626.97" width="13.02" height="8.37" fill="#d0edc9"/><rect x="77.67" y="635.29" width="13.02" height="8.37" fill="#2485ba"/><rect x="129.53" y="635.29" width="13.02" height="8.37" fill="#a8ddb5"/><rect x="142.50" y="635.29" width="13.02" height="8.37" fill="#b1e0b9"/><rect x="155.47" y="635.29" width="13.02" height="8.37" fill="#084a8c"/><rect x="168.43" y="635.29" width="13.02" height="8.37" fill="#2485ba"/><rect x="90.63" y="643.61" width="13.02" height="8.37" fill="#2485ba"/><rect x="103.60" y="643.61" width="13.02" height="8.37" fill="#379ac5"/><rect x="116.57" y="643.61" width="13.02" height="8.37" fill="#e7f6e1"/><rect x="129.53" y="643.61" width="13.02" height="8.37" fill="#4bafd1"/><rect x="142.50" y="643.61" width="13.02" height="8.37" fill="#085da0"/><rect x="155.47" y="643.61" width="13.02" height="8.37" fill="#084a8c"/><rect x="168.43" y="643.61" width="13.02" height="8.37" fill="#0969ac"/><rect x="103.60" y="651.92" width="13.02" height="8.37" fill="#084a8c"/><rect x="103.60" y="660.24" width="13.02" height="8.37" fill="#084a8c"/><rect x="103.60" y="668.56" width="13.02" height="8.37" fill="#084a8c"/><rect x="116.57" y="668.56" width="13.02" height="8.37" fill="#5cbbce"/><rect x="90.63" y="676.88" width="13.02" height="8.37" fill="#d0edc9"/><rect x="129.53" y="676.88" width="13.02" height="8.37" fill="#084a8c"/><rect x="142.50" y="676.88" width="13.02" height="8.37" fill="#0969ac"/><rect x="90.63" y="685.19" width="13.02" height="8.37" fill="#d9f0d3"/><rect x="103.60" y="685.19" width="13.02" height="8.37" fill="#084a8c"/><rect x="129.53" y="693.51" width="13.02" height="8.37" fill="#084a8c"/><rect x="142.50" y="693.51" width="13.02" height="8.37" fill="#084a8c"/><rect x="103.60" y="701.83" width="13.02" height="8.37" fill="#084a8c"/><rect x="129.53" y="701.83" width="13.02" height="8.37" fill="#77cac6"/><rect x="142.50" y="701.83" width="13.02" height="8.37" fill="#77cac6"/><rect x="90.63" y="710.15" width="13.02" height="8.37" fill="#084a8c"/><rect x="103.60" y="710.15" width="13.02" height="8.37" fill="#99d7ba"/><rect x="90.63" y="718.46" width="13.02" height="8.37" fill="#084a8c"/><rect x="129.53" y="718.46" width="13.02" height="8.37" fill="#43a7cc"/><rect x="142.50" y="718.46" width="13.02" height="8.37" fill="#8ad2bf"/><rect x="90.63" y="726.78" width="13.02" height="8.37" fill="#084a8c"/><rect x="77.67" y="735.10" width="13.02" height="8.37" fill="#084a8c"/><rect x="90.63" y="743.42" width="13.02" height="8.37" fill="#084a8c"/><rect x="103.60" y="743.42" width="13.02" height="8.37" fill="#085699"/><rect x="155.47" y="751.74" width="13.02" height="8.37" fill="#084a8c"/><rect x="64.70" y="760.05" width="13.02" height="8.37" fill="#43a7cc"/><rect x="90.63" y="760.05" width="13.02" height="8.37" fill="#084a8c"/><rect x="103.60" y="760.05" width="13.02" height="8.37" fill="#2485ba"/><rect x="129.53" y="760.05" width="13.02" height="8.37" fill="#69c2ca"/><rect x="90.63" y="768.37" width="13.02" height="8.37" fill="#084a8c"/><rect x="103.60" y="768.37" width="13.02" height="8.37" fill="#197ab5"/><rect x="90.63" y="776.69" width="13.02" height="8.37" fill="#084a8c"/><rect x="129.53" y="785.01" width="13.02" height="8.37" fill="#084a8c"/><rect x="142.50" y="785.01" width="13.02" height="8.37" fill="#1474b2"/><rect x="64.70" y="793.32" width="13.02" height="8.37" fill="#084a8c"/><rect x="64.70" y="801.64" width="13.02" height="8.37" fill="#d0edc9"/><rect x="90.63" y="801.64" width="13.02" height="8.37" fill="#084a8c"/><rect x="116.57" y="801.64" width="13.02" height="8.37" fill="#b1e0b9"/><rect x="77.67" y="809.96" width="13.02" height="8.37" fill="#084a8c"/><rect x="64.70" y="818.28" width="13.02" height="8.37" fill="#084a8c"/><rect x="90.63" y="826.59" width="13.02" height="8.37" fill="#084a8c"/><rect x="90.63" y="834.91" width="13.02" height="8.37" fill="#084a8c"/><rect x="103.60" y="834.91" width="13.02" height="8.37" fill="#197ab5"/><rect x="90.63" y="843.23" width="13.02" height="8.37" fill="#084a8c"/><rect x="64.70" y="851.55" width="13.02" height="8.37" fill="#084a8c"/><rect x="90.63" y="859.86" width="13.02" height="8.37" fill="#084a8c"/><rect x="64.70" y="868.18" width="13.02" height="8.37" fill="#084a8c"/></g>
<g shape-rendering="crispEdges"><rect x="64.70" y="879.6" width="13.02" height="5.9" fill="#E41A1C"/><rect x="77.67" y="879.6" width="13.02" height="5.9" fill="#377EB8"/><rect x="90.63" y="879.6" width="13.02" height="5.9" fill="#4DAF4A"/><rect x="103.60" y="879.6" width="13.02" height="5.9" fill="#984EA3"/><rect x="116.57" y="879.6" width="13.02" height="5.9" fill="#F29403"/><rect x="129.53" y="879.6" width="13.02" height="5.9" fill="#F781BF"/><rect x="142.50" y="879.6" width="13.02" height="5.9" fill="#BC9DCC"/><rect x="155.47" y="879.6" width="13.02" height="5.9" fill="#A65628"/><rect x="168.43" y="879.6" width="13.02" height="5.9" fill="#54B0E4"/></g>
<text transform="translate(74.18,888.7) rotate(-90)" font-size="8.4" text-anchor="end" fill="#000">Aneuploid</text>
<text transform="translate(87.15,888.7) rotate(-90)" font-size="8.4" text-anchor="end" fill="#000">B_cell</text>
<text transform="translate(100.12,888.7) rotate(-90)" font-size="8.4" text-anchor="end" fill="#000">Endothelial_cells</text>
<text transform="translate(113.08,888.7) rotate(-90)" font-size="8.4" text-anchor="end" fill="#000">Fibroblasts</text>
<text transform="translate(126.05,888.7) rotate(-90)" font-size="8.4" text-anchor="end" fill="#000">Hepatocytes</text>
<text transform="translate(139.02,888.7) rotate(-90)" font-size="8.4" text-anchor="end" fill="#000">Macrophage</text>
<text transform="translate(151.98,888.7) rotate(-90)" font-size="8.4" text-anchor="end" fill="#000">Monocyte</text>
<text transform="translate(164.95,888.7) rotate(-90)" font-size="8.4" text-anchor="end" fill="#000">NK_cell</text>
<text transform="translate(177.92,888.7) rotate(-90)" font-size="8.4" text-anchor="end" fill="#000">T_cells</text>
<g shape-rendering="crispEdges"><rect x="232.53" y="452.30" width="13.08" height="8.37" fill="#7f0000"/><rect x="245.57" y="452.30" width="13.08" height="8.37" fill="#fff1de"/><rect x="258.60" y="452.30" width="13.08" height="8.37" fill="#fff3e2"/><rect x="284.67" y="452.30" width="13.08" height="8.37" fill="#d93523"/><rect x="297.70" y="452.30" width="13.08" height="8.37" fill="#c3150e"/><rect x="310.73" y="452.30" width="13.08" height="8.37" fill="#d93523"/><rect x="323.77" y="452.30" width="13.08" height="8.37" fill="#d93523"/><rect x="219.50" y="460.62" width="13.08" height="8.37" fill="#fc9662"/><rect x="232.53" y="460.62" width="13.08" height="8.37" fill="#f26d4b"/><rect x="245.57" y="460.62" width="13.08" height="8.37" fill="#fdc28c"/><rect x="258.60" y="460.62" width="13.08" height="8.37" fill="#7f0000"/><rect x="271.63" y="460.62" width="13.08" height="8.37" fill="#fedeb3"/><rect x="284.67" y="460.62" width="13.08" height="8.37" fill="#fc9662"/><rect x="297.70" y="460.62" width="13.08" height="8.37" fill="#d93523"/><rect x="310.73" y="460.62" width="13.08" height="8.37" fill="#d93523"/><rect x="323.77" y="460.62" width="13.08" height="8.37" fill="#c71a11"/><rect x="284.67" y="468.94" width="13.08" height="8.37" fill="#7f0000"/><rect x="297.70" y="468.94" width="13.08" height="8.37" fill="#fdd29b"/><rect x="219.50" y="477.25" width="13.08" height="8.37" fill="#fdc28c"/><rect x="232.53" y="477.25" width="13.08" height="8.37" fill="#8f0000"/><rect x="245.57" y="477.25" width="13.08" height="8.37" fill="#fc9662"/><rect x="258.60" y="477.25" width="13.08" height="8.37" fill="#fdd29b"/><rect x="271.63" y="477.25" width="13.08" height="8.37" fill="#fdd9a9"/><rect x="284.67" y="477.25" width="13.08" height="8.37" fill="#7f0000"/><rect x="297.70" y="477.25" width="13.08" height="8.37" fill="#7f0000"/><rect x="310.73" y="477.25" width="13.08" height="8.37" fill="#fc9662"/><rect x="323.77" y="477.25" width="13.08" height="8.37" fill="#fc9662"/><rect x="219.50" y="485.57" width="13.08" height="8.37" fill="#fdc28c"/><rect x="245.57" y="485.57" width="13.08" height="8.37" fill="#7f0000"/><rect x="258.60" y="485.57" width="13.08" height="8.37" fill="#b30000"/><rect x="284.67" y="485.57" width="13.08" height="8.37" fill="#f88154"/><rect x="297.70" y="485.57" width="13.08" height="8.37" fill="#fedeb3"/><rect x="310.73" y="485.57" width="13.08" height="8.37" fill="#d93523"/><rect x="323.77" y="485.57" width="13.08" height="8.37" fill="#f26d4b"/><rect x="219.50" y="493.89" width="13.08" height="8.37" fill="#f26d4b"/><rect x="232.53" y="493.89" width="13.08" height="8.37" fill="#b30000"/><rect x="245.57" y="493.89" width="13.08" height="8.37" fill="#fc9662"/><rect x="258.60" y="493.89" width="13.08" height="8.37" fill="#f26d4b"/><rect x="271.63" y="493.89" width="13.08" height="8.37" fill="#fedeb3"/><rect x="284.67" y="493.89" width="13.08" height="8.37" fill="#f88154"/><rect x="297.70" y="493.89" width="13.08" height="8.37" fill="#8f0000"/><rect x="310.73" y="493.89" width="13.08" height="8.37" fill="#b30000"/><rect x="323.77" y="493.89" width="13.08" height="8.37" fill="#7f0000"/><rect x="219.50" y="502.21" width="13.08" height="8.37" fill="#7f0000"/><rect x="232.53" y="502.21" width="13.08" height="8.37" fill="#fdc28c"/><rect x="245.57" y="502.21" width="13.08" height="8.37" fill="#f88154"/><rect x="258.60" y="502.21" width="13.08" height="8.37" fill="#f26d4b"/><rect x="271.63" y="502.21" width="13.08" height="8.37" fill="#fee2bc"/><rect x="284.67" y="502.21" width="13.08" height="8.37" fill="#fdd29b"/><rect x="297.70" y="502.21" width="13.08" height="8.37" fill="#fdd29b"/><rect x="310.73" y="502.21" width="13.08" height="8.37" fill="#fdc892"/><rect x="323.77" y="502.21" width="13.08" height="8.37" fill="#fdd29b"/><rect x="232.53" y="510.52" width="13.08" height="8.37" fill="#b30000"/><rect x="245.57" y="510.52" width="13.08" height="8.37" fill="#fc9662"/><rect x="258.60" y="510.52" width="13.08" height="8.37" fill="#f26d4b"/><rect x="284.67" y="510.52" width="13.08" height="8.37" fill="#f88154"/><rect x="297.70" y="510.52" width="13.08" height="8.37" fill="#b30000"/><rect x="310.73" y="510.52" width="13.08" height="8.37" fill="#b30000"/><rect x="323.77" y="510.52" width="13.08" height="8.37" fill="#7f0000"/><rect x="310.73" y="518.84" width="13.08" height="8.37" fill="#7f0000"/><rect x="310.73" y="527.16" width="13.08" height="8.37" fill="#7f0000"/><rect x="323.77" y="527.16" width="13.08" height="8.37" fill="#fdc28c"/><rect x="232.53" y="535.48" width="13.08" height="8.37" fill="#f26d4b"/><rect x="258.60" y="535.48" width="13.08" height="8.37" fill="#fff1de"/><rect x="284.67" y="535.48" width="13.08" height="8.37" fill="#fc9662"/><rect x="297.70" y="535.48" width="13.08" height="8.37" fill="#e7523a"/><rect x="310.73" y="535.48" width="13.08" height="8.37" fill="#b30000"/><rect x="323.77" y="535.48" width="13.08" height="8.37" fill="#7f0000"/><rect x="219.50" y="543.79" width="13.08" height="8.37" fill="#fff1de"/><rect x="245.57" y="543.79" width="13.08" height="8.37" fill="#7f0000"/><rect x="258.60" y="543.79" width="13.08" height="8.37" fill="#fff1de"/><rect x="271.63" y="543.79" width="13.08" height="8.37" fill="#fff1de"/><rect x="245.57" y="552.11" width="13.08" height="8.37" fill="#7f0000"/><rect x="284.67" y="552.11" width="13.08" height="8.37" fill="#f4754f"/><rect x="297.70" y="552.11" width="13.08" height="8.37" fill="#f98556"/><rect x="232.53" y="560.43" width="13.08" height="8.37" fill="#f26d4b"/><rect x="245.57" y="560.43" width="13.08" height="8.37" fill="#7f0000"/><rect x="258.60" y="560.43" width="13.08" height="8.37" fill="#7f0000"/><rect x="284.67" y="560.43" width="13.08" height="8.37" fill="#fdb079"/><rect x="297.70" y="560.43" width="13.08" height="8.37" fill="#f26d4b"/><rect x="310.73" y="560.43" width="13.08" height="8.37" fill="#e7523a"/><rect x="323.77" y="560.43" width="13.08" height="8.37" fill="#cf2518"/><rect x="232.53" y="568.75" width="13.08" height="8.37" fill="#7f0000"/><rect x="245.57" y="568.75" width="13.08" height="8.37" fill="#fedeb3"/><rect x="258.60" y="568.75" width="13.08" height="8.37" fill="#fff1de"/><rect x="271.63" y="568.75" width="13.08" height="8.37" fill="#fff1de"/><rect x="284.67" y="568.75" width="13.08" height="8.37" fill="#fdb079"/><rect x="297.70" y="568.75" width="13.08" height="8.37" fill="#f88154"/><rect x="310.73" y="568.75" width="13.08" height="8.37" fill="#8f0000"/><rect x="323.77" y="568.75" width="13.08" height="8.37" fill="#7f0000"/><rect x="284.67" y="577.06" width="13.08" height="8.37" fill="#7f0000"/><rect x="297.70" y="577.06" width="13.08" height="8.37" fill="#fdd29b"/><rect x="258.60" y="585.38" width="13.08" height="8.37" fill="#7f0000"/><rect x="245.57" y="593.70" width="13.08" height="8.37" fill="#7f0000"/><rect x="258.60" y="593.70" width="13.08" height="8.37" fill="#fc9662"/><rect x="284.67" y="602.02" width="13.08" height="8.37" fill="#7f0000"/><rect x="297.70" y="602.02" width="13.08" height="8.37" fill="#d93523"/><rect x="284.67" y="610.34" width="13.08" height="8.37" fill="#7f0000"/><rect x="323.77" y="610.34" width="13.08" height="8.37" fill="#fee2bc"/><rect x="245.57" y="618.65" width="13.08" height="8.37" fill="#7f0000"/><rect x="284.67" y="618.65" width="13.08" height="8.37" fill="#fff1de"/><rect x="245.57" y="626.97" width="13.08" height="8.37" fill="#7f0000"/><rect x="258.60" y="626.97" width="13.08" height="8.37" fill="#fedeb3"/><rect x="232.53" y="635.29" width="13.08" height="8.37" fill="#7f0000"/><rect x="245.57" y="635.29" width="13.08" height="8.37" fill="#fee2bc"/><rect x="297.70" y="635.29" width="13.08" height="8.37" fill="#fedeb3"/><rect x="297.70" y="643.61" width="13.08" height="8.37" fill="#7f0000"/><rect x="219.50" y="651.92" width="13.08" height="8.37" fill="#7f0000"/><rect x="232.53" y="651.92" width="13.08" height="8.37" fill="#fdc28c"/><rect x="245.57" y="651.92" width="13.08" height="8.37" fill="#fdd29b"/><rect x="258.60" y="651.92" width="13.08" height="8.37" fill="#e7523a"/><rect x="271.63" y="651.92" width="13.08" height="8.37" fill="#fee2bc"/><rect x="284.67" y="651.92" width="13.08" height="8.37" fill="#fdc28c"/><rect x="297.70" y="651.92" width="13.08" height="8.37" fill="#fdc28c"/><rect x="310.73" y="651.92" width="13.08" height="8.37" fill="#fdc28c"/><rect x="323.77" y="651.92" width="13.08" height="8.37" fill="#fdc28c"/><rect x="219.50" y="660.24" width="13.08" height="8.37" fill="#890000"/><rect x="232.53" y="660.24" width="13.08" height="8.37" fill="#fdd29b"/><rect x="245.57" y="660.24" width="13.08" height="8.37" fill="#7f0000"/><rect x="258.60" y="660.24" width="13.08" height="8.37" fill="#e7523a"/><rect x="271.63" y="660.24" width="13.08" height="8.37" fill="#fdc28c"/><rect x="284.67" y="660.24" width="13.08" height="8.37" fill="#fdc28c"/><rect x="297.70" y="660.24" width="13.08" height="8.37" fill="#fb8957"/><rect x="310.73" y="660.24" width="13.08" height="8.37" fill="#fdd7a4"/><rect x="323.77" y="660.24" width="13.08" height="8.37" fill="#fdd7a4"/><rect x="219.50" y="668.56" width="13.08" height="8.37" fill="#7f0000"/><rect x="245.57" y="668.56" width="13.08" height="8.37" fill="#d93523"/><rect x="258.60" y="668.56" width="13.08" height="8.37" fill="#f98556"/><rect x="271.63" y="668.56" width="13.08" height="8.37" fill="#fee9ca"/><rect x="284.67" y="668.56" width="13.08" height="8.37" fill="#fedeb3"/><rect x="297.70" y="668.56" width="13.08" height="8.37" fill="#feeace"/><rect x="284.67" y="676.88" width="13.08" height="8.37" fill="#7f0000"/><rect x="297.70" y="676.88" width="13.08" height="8.37" fill="#7f0000"/><rect x="284.67" y="685.19" width="13.08" height="8.37" fill="#7f0000"/><rect x="297.70" y="685.19" width="13.08" height="8.37" fill="#7f0000"/><rect x="232.53" y="693.51" width="13.08" height="8.37" fill="#7f0000"/><rect x="245.57" y="701.83" width="13.08" height="8.37" fill="#7f0000"/><rect x="245.57" y="710.15" width="13.08" height="8.37" fill="#7f0000"/><rect x="258.60" y="710.15" width="13.08" height="8.37" fill="#b30000"/><rect x="245.57" y="718.46" width="13.08" height="8.37" fill="#7f0000"/><rect x="245.57" y="726.78" width="13.08" height="8.37" fill="#7f0000"/><rect x="245.57" y="735.10" width="13.08" height="8.37" fill="#7f0000"/><rect x="258.60" y="743.42" width="13.08" height="8.37" fill="#7f0000"/><rect x="284.67" y="743.42" width="13.08" height="8.37" fill="#df412c"/><rect x="245.57" y="751.74" width="13.08" height="8.37" fill="#ef6447"/><rect x="258.60" y="751.74" width="13.08" height="8.37" fill="#fdd29b"/><rect x="284.67" y="751.74" width="13.08" height="8.37" fill="#a90000"/><rect x="297.70" y="751.74" width="13.08" height="8.37" fill="#7f0000"/><rect x="245.57" y="760.05" width="13.08" height="8.37" fill="#7f0000"/><rect x="258.60" y="760.05" width="13.08" height="8.37" fill="#a90000"/><rect x="245.57" y="768.37" width="13.08" height="8.37" fill="#7f0000"/><rect x="245.57" y="776.69" width="13.08" height="8.37" fill="#fdaa75"/><rect x="258.60" y="776.69" width="13.08" height="8.37" fill="#7f0000"/><rect x="323.77" y="785.01" width="13.08" height="8.37" fill="#7f0000"/><rect x="245.57" y="793.32" width="13.08" height="8.37" fill="#7f0000"/><rect x="284.67" y="793.32" width="13.08" height="8.37" fill="#fee2bc"/><rect x="245.57" y="801.64" width="13.08" height="8.37" fill="#7f0000"/><rect x="284.67" y="809.96" width="13.08" height="8.37" fill="#7f0000"/><rect x="297.70" y="809.96" width="13.08" height="8.37" fill="#fdd29b"/><rect x="258.60" y="818.28" width="13.08" height="8.37" fill="#7f0000"/><rect x="284.67" y="818.28" width="13.08" height="8.37" fill="#fdc28c"/><rect x="245.57" y="826.59" width="13.08" height="8.37" fill="#7f0000"/><rect x="258.60" y="834.91" width="13.08" height="8.37" fill="#7f0000"/><rect x="245.57" y="843.23" width="13.08" height="8.37" fill="#7f0000"/><rect x="219.50" y="851.55" width="13.08" height="8.37" fill="#7f0000"/><rect x="245.57" y="859.86" width="13.08" height="8.37" fill="#7f0000"/><rect x="219.50" y="868.18" width="13.08" height="8.37" fill="#7f0000"/></g>
<g shape-rendering="crispEdges"><rect x="219.50" y="879.6" width="13.08" height="5.9" fill="#E41A1C"/><rect x="232.53" y="879.6" width="13.08" height="5.9" fill="#377EB8"/><rect x="245.57" y="879.6" width="13.08" height="5.9" fill="#4DAF4A"/><rect x="258.60" y="879.6" width="13.08" height="5.9" fill="#984EA3"/><rect x="271.63" y="879.6" width="13.08" height="5.9" fill="#F29403"/><rect x="284.67" y="879.6" width="13.08" height="5.9" fill="#F781BF"/><rect x="297.70" y="879.6" width="13.08" height="5.9" fill="#BC9DCC"/><rect x="310.73" y="879.6" width="13.08" height="5.9" fill="#A65628"/><rect x="323.77" y="879.6" width="13.08" height="5.9" fill="#54B0E4"/></g>
<text transform="translate(229.02,888.7) rotate(-90)" font-size="8.4" text-anchor="end" fill="#000">Aneuploid</text>
<text transform="translate(242.05,888.7) rotate(-90)" font-size="8.4" text-anchor="end" fill="#000">B_cell</text>
<text transform="translate(255.08,888.7) rotate(-90)" font-size="8.4" text-anchor="end" fill="#000">Endothelial_cells</text>
<text transform="translate(268.12,888.7) rotate(-90)" font-size="8.4" text-anchor="end" fill="#000">Fibroblasts</text>
<text transform="translate(281.15,888.7) rotate(-90)" font-size="8.4" text-anchor="end" fill="#000">Hepatocytes</text>
<text transform="translate(294.18,888.7) rotate(-90)" font-size="8.4" text-anchor="end" fill="#000">Macrophage</text>
<text transform="translate(307.22,888.7) rotate(-90)" font-size="8.4" text-anchor="end" fill="#000">Monocyte</text>
<text transform="translate(320.25,888.7) rotate(-90)" font-size="8.4" text-anchor="end" fill="#000">NK_cell</text>
<text transform="translate(333.28,888.7) rotate(-90)" font-size="8.4" text-anchor="end" fill="#000">T_cells</text>
<text x="61.2" y="459.41" font-size="8.25" text-anchor="end" fill="#000">MIF</text>
<text x="61.2" y="467.73" font-size="8.25" text-anchor="end" fill="#000">COLLAGEN</text>
<text x="61.2" y="476.04" font-size="8.25" text-anchor="end" fill="#000">MHC−II</text>
<text x="61.2" y="484.36" font-size="8.25" text-anchor="end" fill="#000">APP</text>
<text x="61.2" y="492.68" font-size="8.25" text-anchor="end" fill="#000">CD99</text>
<text x="61.2" y="501.00" font-size="8.25" text-anchor="end" fill="#000">FN1</text>
<text x="61.2" y="509.31" font-size="8.25" text-anchor="end" fill="#000">MK</text>
<text x="61.2" y="517.63" font-size="8.25" text-anchor="end" fill="#000">SPP1</text>
<text x="61.2" y="525.95" font-size="8.25" text-anchor="end" fill="#000">MHC−I</text>
<text x="61.2" y="534.27" font-size="8.25" text-anchor="end" fill="#000">CLEC</text>
<text x="61.2" y="542.59" font-size="8.25" text-anchor="end" fill="#000">GALECTIN</text>
<text x="61.2" y="550.90" font-size="8.25" text-anchor="end" fill="#000">VISFATIN</text>
<text x="61.2" y="559.22" font-size="8.25" text-anchor="end" fill="#000">ITGB2</text>
<text x="61.2" y="567.54" font-size="8.25" text-anchor="end" fill="#000">LAMININ</text>
<text x="61.2" y="575.86" font-size="8.25" text-anchor="end" fill="#000">CXCL</text>
<text x="61.2" y="584.17" font-size="8.25" text-anchor="end" fill="#000">CD45</text>
<text x="61.2" y="592.49" font-size="8.25" text-anchor="end" fill="#000">VTN</text>
<text x="61.2" y="600.81" font-size="8.25" text-anchor="end" fill="#000">PARs</text>
<text x="61.2" y="609.13" font-size="8.25" text-anchor="end" fill="#000">COMPLEMENT</text>
<text x="61.2" y="617.44" font-size="8.25" text-anchor="end" fill="#000">CCL</text>
<text x="61.2" y="625.76" font-size="8.25" text-anchor="end" fill="#000">PECAM1</text>
<text x="61.2" y="634.08" font-size="8.25" text-anchor="end" fill="#000">ESAM</text>
<text x="61.2" y="642.40" font-size="8.25" text-anchor="end" fill="#000">ADGRE5</text>
<text x="61.2" y="650.71" font-size="8.25" text-anchor="end" fill="#000">ANNEXIN</text>
<text x="61.2" y="659.03" font-size="8.25" text-anchor="end" fill="#000">PTN</text>
<text x="61.2" y="667.35" font-size="8.25" text-anchor="end" fill="#000">THBS</text>
<text x="61.2" y="675.67" font-size="8.25" text-anchor="end" fill="#000">ANGPTL</text>
<text x="61.2" y="683.99" font-size="8.25" text-anchor="end" fill="#000">ICAM</text>
<text x="61.2" y="692.30" font-size="8.25" text-anchor="end" fill="#000">THY1</text>
<text x="61.2" y="700.62" font-size="8.25" text-anchor="end" fill="#000">BAFF</text>
<text x="61.2" y="708.94" font-size="8.25" text-anchor="end" fill="#000">VEGF</text>
<text x="61.2" y="717.26" font-size="8.25" text-anchor="end" fill="#000">NOTCH</text>
<text x="61.2" y="725.57" font-size="8.25" text-anchor="end" fill="#000">CALCR</text>
<text x="61.2" y="733.89" font-size="8.25" text-anchor="end" fill="#000">CDH5</text>
<text x="61.2" y="742.21" font-size="8.25" text-anchor="end" fill="#000">SELL</text>
<text x="61.2" y="750.53" font-size="8.25" text-anchor="end" fill="#000">GAS</text>
<text x="61.2" y="758.84" font-size="8.25" text-anchor="end" fill="#000">IFN−II</text>
<text x="61.2" y="767.16" font-size="8.25" text-anchor="end" fill="#000">CD46</text>
<text x="61.2" y="775.48" font-size="8.25" text-anchor="end" fill="#000">ANGPT</text>
<text x="61.2" y="783.80" font-size="8.25" text-anchor="end" fill="#000">JAM</text>
<text x="61.2" y="792.11" font-size="8.25" text-anchor="end" fill="#000">CD86</text>
<text x="61.2" y="800.43" font-size="8.25" text-anchor="end" fill="#000">GDF</text>
<text x="61.2" y="808.75" font-size="8.25" text-anchor="end" fill="#000">EPHA</text>
<text x="61.2" y="817.07" font-size="8.25" text-anchor="end" fill="#000">IL16</text>
<text x="61.2" y="825.39" font-size="8.25" text-anchor="end" fill="#000">PROS</text>
<text x="61.2" y="833.70" font-size="8.25" text-anchor="end" fill="#000">EPHB</text>
<text x="61.2" y="842.02" font-size="8.25" text-anchor="end" fill="#000">PDGF</text>
<text x="61.2" y="850.34" font-size="8.25" text-anchor="end" fill="#000">PTPRM</text>
<text x="61.2" y="858.66" font-size="8.25" text-anchor="end" fill="#000">CADM</text>
<text x="61.2" y="866.97" font-size="8.25" text-anchor="end" fill="#000">MPZ</text>
<text x="61.2" y="875.29" font-size="8.25" text-anchor="end" fill="#000">CDH</text>
<text x="123" y="411" font-size="10.3" text-anchor="middle" fill="#000">Outgoing signaling patterns</text>
<text x="278.3" y="411" font-size="10.3" text-anchor="middle" fill="#000">Incoming signaling patterns</text>
<rect x="67.18" y="438.21" width="8.0" height="11.49" fill="#E41A1C"/>
<rect x="80.15" y="443.88" width="8.0" height="5.82" fill="#377EB8"/>
<rect x="93.12" y="427.10" width="8.0" height="22.60" fill="#4DAF4A"/>
<rect x="106.08" y="420.26" width="8.0" height="29.44" fill="#984EA3"/>
<rect x="119.05" y="436.31" width="8.0" height="13.39" fill="#F29403"/>
<rect x="132.02" y="436.31" width="8.0" height="13.39" fill="#F781BF"/>
<rect x="144.98" y="438.21" width="8.0" height="11.49" fill="#BC9DCC"/>
<rect x="157.95" y="444.03" width="8.0" height="5.67" fill="#A65628"/>
<rect x="170.92" y="441.07" width="8.0" height="8.63" fill="#54B0E4"/>
<path d="M64.2 420.4V449.7" stroke="#000" stroke-width="1" fill="none"/>
<path d="M61.6 449.70H64.2" stroke="#000" stroke-width="1"/>
<text x="59.2" y="452.70" font-size="8.4" text-anchor="end" fill="#000">0</text>
<path d="M61.6 440.00H64.2" stroke="#000" stroke-width="1"/>
<text x="59.2" y="443.00" font-size="8.4" text-anchor="end" fill="#000">2</text>
<path d="M61.6 430.30H64.2" stroke="#000" stroke-width="1"/>
<text x="59.2" y="433.30" font-size="8.4" text-anchor="end" fill="#000">4</text>
<path d="M61.6 420.60H64.2" stroke="#000" stroke-width="1"/>
<text x="59.2" y="423.60" font-size="8.4" text-anchor="end" fill="#000">6</text>
<rect x="222.02" y="442.98" width="8.0" height="6.72" fill="#E41A1C"/>
<rect x="235.05" y="431.25" width="8.0" height="18.45" fill="#377EB8"/>
<rect x="248.08" y="436.01" width="8.0" height="13.68" fill="#4DAF4A"/>
<rect x="261.12" y="438.04" width="8.0" height="11.66" fill="#984EA3"/>
<rect x="274.15" y="447.32" width="8.0" height="2.38" fill="#F29403"/>
<rect x="287.18" y="420.25" width="8.0" height="29.45" fill="#F781BF"/>
<rect x="300.22" y="427.27" width="8.0" height="22.43" fill="#BC9DCC"/>
<rect x="313.25" y="425.01" width="8.0" height="24.69" fill="#A65628"/>
<rect x="326.28" y="431.55" width="8.0" height="18.15" fill="#54B0E4"/>
<path d="M219.1 419.4V449.7" stroke="#000" stroke-width="1" fill="none"/>
<path d="M216.5 449.70H219.1" stroke="#000" stroke-width="1"/>
<text x="214.1" y="452.70" font-size="8.4" text-anchor="end" fill="#000">0</text>
<path d="M216.5 437.80H219.1" stroke="#000" stroke-width="1"/>
<text x="214.1" y="440.80" font-size="8.4" text-anchor="end" fill="#000">2</text>
<path d="M216.5 425.90H219.1" stroke="#000" stroke-width="1"/>
<text x="214.1" y="428.90" font-size="8.4" text-anchor="end" fill="#000">4</text>
<rect x="184.75" y="454.16" width="27.60" height="4.6" rx="0.5" fill="#8f8f8f" stroke="#111" stroke-width="0.9"/>
<rect x="184.75" y="462.48" width="26.50" height="4.6" rx="0.5" fill="#8f8f8f" stroke="#111" stroke-width="0.9"/>
<rect x="184.75" y="470.79" width="25.10" height="4.6" rx="0.5" fill="#8f8f8f" stroke="#111" stroke-width="0.9"/>
<rect x="184.75" y="479.11" width="23.90" height="4.6" rx="0.5" fill="#8f8f8f" stroke="#111" stroke-width="0.9"/>
<rect x="184.75" y="487.43" width="22.70" height="4.6" rx="0.5" fill="#8f8f8f" stroke="#111" stroke-width="0.9"/>
<rect x="184.75" y="495.75" width="21.50" height="4.6" rx="0.5" fill="#8f8f8f" stroke="#111" stroke-width="0.9"/>
<rect x="184.75" y="504.06" width="20.20" height="4.6" rx="0.5" fill="#8f8f8f" stroke="#111" stroke-width="0.9"/>
<rect x="184.75" y="512.38" width="18.10" height="4.6" rx="0.5" fill="#8f8f8f" stroke="#111" stroke-width="0.9"/>
<rect x="184.30" y="520.25" width="1.5" height="5.5" fill="#000"/>
<path d="M184.60 528.57V876.3" stroke="#000" stroke-width="0.95" stroke-dasharray="5.5 2.818" fill="none"/>
<path d="M184.30 876.2H213.70" stroke="#000" stroke-width="1" fill="none"/>
<path d="M184.30 876.2V879.3" stroke="#000" stroke-width="1"/>
<text transform="translate(187.30,882.4) rotate(-90)" font-size="8.2" text-anchor="end" fill="#000">0</text>
<path d="M193.15 876.2V879.3" stroke="#000" stroke-width="1"/>
<text transform="translate(196.15,882.4) rotate(-90)" font-size="8.2" text-anchor="end" fill="#000">500</text>
<path d="M202.00 876.2V879.3" stroke="#000" stroke-width="1"/>
<text transform="translate(205.00,882.4) rotate(-90)" font-size="8.2" text-anchor="end" fill="#000">1000</text>
<path d="M210.85 876.2V879.3" stroke="#000" stroke-width="1"/>
<text transform="translate(213.85,882.4) rotate(-90)" font-size="8.2" text-anchor="end" fill="#000">1500</text>
<rect x="340.05" y="454.16" width="27.60" height="4.6" rx="0.5" fill="#8f8f8f" stroke="#111" stroke-width="0.9"/>
<rect x="340.05" y="462.48" width="26.50" height="4.6" rx="0.5" fill="#8f8f8f" stroke="#111" stroke-width="0.9"/>
<rect x="340.05" y="470.79" width="25.10" height="4.6" rx="0.5" fill="#8f8f8f" stroke="#111" stroke-width="0.9"/>
<rect x="340.05" y="479.11" width="23.90" height="4.6" rx="0.5" fill="#8f8f8f" stroke="#111" stroke-width="0.9"/>
<rect x="340.05" y="487.43" width="22.70" height="4.6" rx="0.5" fill="#8f8f8f" stroke="#111" stroke-width="0.9"/>
<rect x="340.05" y="495.75" width="21.50" height="4.6" rx="0.5" fill="#8f8f8f" stroke="#111" stroke-width="0.9"/>
<rect x="340.05" y="504.06" width="20.20" height="4.6" rx="0.5" fill="#8f8f8f" stroke="#111" stroke-width="0.9"/>
<rect x="340.05" y="512.38" width="18.10" height="4.6" rx="0.5" fill="#8f8f8f" stroke="#111" stroke-width="0.9"/>
<rect x="339.60" y="520.25" width="1.5" height="5.5" fill="#000"/>
<path d="M339.90 528.57V876.3" stroke="#000" stroke-width="0.95" stroke-dasharray="5.5 2.818" fill="none"/>
<path d="M339.60 876.2H369.00" stroke="#000" stroke-width="1" fill="none"/>
<path d="M339.60 876.2V879.3" stroke="#000" stroke-width="1"/>
<text transform="translate(342.60,882.4) rotate(-90)" font-size="8.2" text-anchor="end" fill="#000">0</text>
<path d="M348.45 876.2V879.3" stroke="#000" stroke-width="1"/>
<text transform="translate(351.45,882.4) rotate(-90)" font-size="8.2" text-anchor="end" fill="#000">500</text>
<path d="M357.30 876.2V879.3" stroke="#000" stroke-width="1"/>
<text transform="translate(360.30,882.4) rotate(-90)" font-size="8.2" text-anchor="end" fill="#000">1000</text>
<path d="M366.15 876.2V879.3" stroke="#000" stroke-width="1"/>
<text transform="translate(369.15,882.4) rotate(-90)" font-size="8.2" text-anchor="end" fill="#000">1500</text>
<defs><linearGradient id="gnbu" x1="0" y1="1" x2="0" y2="0"><stop offset="0.000" stop-color="#f7fcf0"/><stop offset="0.125" stop-color="#e0f3db"/><stop offset="0.250" stop-color="#ccebc5"/><stop offset="0.375" stop-color="#a8ddb5"/><stop offset="0.500" stop-color="#7bccc4"/><stop offset="0.625" stop-color="#4eb3d3"/><stop offset="0.750" stop-color="#2b8cbe"/><stop offset="0.875" stop-color="#0868ac"/><stop offset="1.000" stop-color="#084081"/></linearGradient></defs>
<rect x="386.1" y="633.6" width="6.7" height="61.2" fill="url(#gnbu)"/>
<text transform="translate(381.3,664.2) rotate(-90)" font-size="8.2" text-anchor="middle" fill="#000">Relative strength</text>
<text x="395.3" y="638.8" font-size="8.2" fill="#000">1</text>
<text x="395.3" y="696.4" font-size="8.2" fill="#000">0</text>
<g><path d="M507.45 435.1V822.6" stroke="#ededf1" stroke-width="0.6"/><path d="M522.95 435.1V822.6" stroke="#ededf1" stroke-width="0.6"/><path d="M538.45 435.1V822.6" stroke="#ededf1" stroke-width="0.6"/><path d="M553.95 435.1V822.6" stroke="#ededf1" stroke-width="0.6"/><path d="M569.45 435.1V822.6" stroke="#ededf1" stroke-width="0.6"/><path d="M584.95 435.1V822.6" stroke="#ededf1" stroke-width="0.6"/><path d="M600.45 435.1V822.6" stroke="#ededf1" stroke-width="0.6"/><path d="M615.95 435.1V822.6" stroke="#ededf1" stroke-width="0.6"/><path d="M490.7 443.81H633.1" stroke="#ededf1" stroke-width="0.6"/><path d="M490.7 452.04H633.1" stroke="#ededf1" stroke-width="0.6"/><path d="M490.7 460.26H633.1" stroke="#ededf1" stroke-width="0.6"/><path d="M490.7 468.48H633.1" stroke="#ededf1" stroke-width="0.6"/><path d="M490.7 476.71H633.1" stroke="#ededf1" stroke-width="0.6"/><path d="M490.7 484.93H633.1" stroke="#ededf1" stroke-width="0.6"/><path d="M490.7 493.16H633.1" stroke="#ededf1" stroke-width="0.6"/><path d="M490.7 501.38H633.1" stroke="#ededf1" stroke-width="0.6"/><path d="M490.7 509.60H633.1" stroke="#ededf1" stroke-width="0.6"/><path d="M490.7 517.83H633.1" stroke="#ededf1" stroke-width="0.6"/><path d="M490.7 526.05H633.1" stroke="#ededf1" stroke-width="0.6"/><path d="M490.7 534.27H633.1" stroke="#ededf1" stroke-width="0.6"/><path d="M490.7 542.50H633.1" stroke="#ededf1" stroke-width="0.6"/><path d="M490.7 550.72H633.1" stroke="#ededf1" stroke-width="0.6"/><path d="M490.7 558.95H633.1" stroke="#ededf1" stroke-width="0.6"/><path d="M490.7 567.17H633.1" stroke="#ededf1" stroke-width="0.6"/><path d="M490.7 575.39H633.1" stroke="#ededf1" stroke-width="0.6"/><path d="M490.7 583.62H633.1" stroke="#ededf1" stroke-width="0.6"/><path d="M490.7 591.84H633.1" stroke="#ededf1" stroke-width="0.6"/><path d="M490.7 600.07H633.1" stroke="#ededf1" stroke-width="0.6"/><path d="M490.7 608.29H633.1" stroke="#ededf1" stroke-width="0.6"/><path d="M490.7 616.51H633.1" stroke="#ededf1" stroke-width="0.6"/><path d="M490.7 624.74H633.1" stroke="#ededf1" stroke-width="0.6"/><path d="M490.7 632.96H633.1" stroke="#ededf1" stroke-width="0.6"/><path d="M490.7 641.19H633.1" stroke="#ededf1" stroke-width="0.6"/><path d="M490.7 649.41H633.1" stroke="#ededf1" stroke-width="0.6"/><path d="M490.7 657.63H633.1" stroke="#ededf1" stroke-width="0.6"/><path d="M490.7 665.86H633.1" stroke="#ededf1" stroke-width="0.6"/><path d="M490.7 674.08H633.1" stroke="#ededf1" stroke-width="0.6"/><path d="M490.7 682.31H633.1" stroke="#ededf1" stroke-width="0.6"/><path d="M490.7 690.53H633.1" stroke="#ededf1" stroke-width="0.6"/><path d="M490.7 698.75H633.1" stroke="#ededf1" stroke-width="0.6"/><path d="M490.7 706.98H633.1" stroke="#ededf1" stroke-width="0.6"/><path d="M490.7 715.20H633.1" stroke="#ededf1" stroke-width="0.6"/><path d="M490.7 723.42H633.1" stroke="#ededf1" stroke-width="0.6"/><path d="M490.7 731.65H633.1" stroke="#ededf1" stroke-width="0.6"/><path d="M490.7 739.87H633.1" stroke="#ededf1" stroke-width="0.6"/><path d="M490.7 748.10H633.1" stroke="#ededf1" stroke-width="0.6"/><path d="M490.7 756.32H633.1" stroke="#ededf1" stroke-width="0.6"/><path d="M490.7 764.54H633.1" stroke="#ededf1" stroke-width="0.6"/><path d="M490.7 772.77H633.1" stroke="#ededf1" stroke-width="0.6"/><path d="M490.7 780.99H633.1" stroke="#ededf1" stroke-width="0.6"/><path d="M490.7 789.22H633.1" stroke="#ededf1" stroke-width="0.6"/><path d="M490.7 797.44H633.1" stroke="#ededf1" stroke-width="0.6"/><path d="M490.7 805.66H633.1" stroke="#ededf1" stroke-width="0.6"/><path d="M490.7 813.89H633.1" stroke="#ededf1" stroke-width="0.6"/></g>
<g><circle cx="546.20" cy="439.70" r="3.9" fill="#fdae61"/><circle cx="515.20" cy="447.92" r="3.9" fill="#66c2a5"/><circle cx="577.20" cy="447.92" r="3.9" fill="#56b1ac"/><circle cx="592.70" cy="447.92" r="3.9" fill="#66c2a5"/><circle cx="608.20" cy="447.92" r="3.9" fill="#66c2a5"/><circle cx="623.70" cy="447.92" r="3.9" fill="#74c7a5"/><circle cx="546.20" cy="456.15" r="3.9" fill="#4ca5b1"/><circle cx="530.70" cy="464.37" r="3.9" fill="#4ca5b1"/><circle cx="546.20" cy="472.60" r="3.9" fill="#3288bd"/><circle cx="577.20" cy="472.60" r="3.9" fill="#486cb0"/><circle cx="530.70" cy="480.82" r="3.9" fill="#abdda4"/><circle cx="546.20" cy="480.82" r="3.9" fill="#66c2a5"/><circle cx="499.70" cy="489.04" r="3.9" fill="#3b7db8"/><circle cx="530.70" cy="489.04" r="3.9" fill="#bce3a0"/><circle cx="546.20" cy="489.04" r="3.9" fill="#3288bd"/><circle cx="561.70" cy="489.04" r="3.9" fill="#3f77b5"/><circle cx="530.70" cy="497.27" r="3.9" fill="#82cda5"/><circle cx="515.20" cy="505.49" r="3.9" fill="#9e0142"/><circle cx="577.20" cy="505.49" r="3.9" fill="#eb5f47"/><circle cx="592.70" cy="505.49" r="3.9" fill="#e1514a"/><circle cx="608.20" cy="505.49" r="3.9" fill="#e1514a"/><circle cx="623.70" cy="505.49" r="3.9" fill="#e45649"/><circle cx="515.20" cy="513.72" r="3.9" fill="#f7804c"/><circle cx="577.20" cy="513.72" r="3.9" fill="#fba15b"/><circle cx="592.70" cy="513.72" r="3.9" fill="#f7804c"/><circle cx="608.20" cy="513.72" r="3.9" fill="#fdb769"/><circle cx="623.70" cy="513.72" r="3.9" fill="#fdb769"/><circle cx="499.70" cy="521.94" r="3.9" fill="#4ca5b1"/><circle cx="561.70" cy="521.94" r="3.9" fill="#5cb6aa"/><circle cx="592.70" cy="521.94" r="3.9" fill="#3288bd"/><circle cx="499.70" cy="530.16" r="3.9" fill="#eaf29b"/><circle cx="546.20" cy="530.16" r="3.9" fill="#d8ed99"/><circle cx="577.20" cy="530.16" r="3.9" fill="#4ca5b1"/><circle cx="592.70" cy="530.16" r="3.9" fill="#3288bd"/><circle cx="499.70" cy="538.39" r="3.9" fill="#96d5a4"/><circle cx="499.70" cy="546.61" r="3.9" fill="#b6e1a1"/><circle cx="515.20" cy="546.61" r="3.9" fill="#e3f196"/><circle cx="530.70" cy="546.61" r="3.9" fill="#bce3a0"/><circle cx="546.20" cy="546.61" r="3.9" fill="#bce3a0"/><circle cx="561.70" cy="546.61" r="3.9" fill="#56b1ac"/><circle cx="577.20" cy="546.61" r="3.9" fill="#abdda4"/><circle cx="592.70" cy="546.61" r="3.9" fill="#abdda4"/><circle cx="608.20" cy="546.61" r="3.9" fill="#e3f196"/><circle cx="623.70" cy="546.61" r="3.9" fill="#d2eb9a"/><circle cx="577.20" cy="554.83" r="3.9" fill="#4ca5b1"/><circle cx="530.70" cy="563.06" r="3.9" fill="#e3f196"/><circle cx="608.20" cy="571.28" r="3.9" fill="#4ca5b1"/><circle cx="577.20" cy="579.51" r="3.9" fill="#4ca5b1"/><circle cx="592.70" cy="579.51" r="3.9" fill="#486cb0"/><circle cx="577.20" cy="587.73" r="3.9" fill="#d2eb9a"/><circle cx="592.70" cy="587.73" r="3.9" fill="#5cb6aa"/><circle cx="577.20" cy="595.95" r="3.9" fill="#3682ba"/><circle cx="592.70" cy="595.95" r="3.9" fill="#555aa7"/><circle cx="577.20" cy="604.18" r="3.9" fill="#479fb3"/><circle cx="592.70" cy="604.18" r="3.9" fill="#486cb0"/><circle cx="577.20" cy="612.40" r="3.9" fill="#479fb3"/><circle cx="592.70" cy="612.40" r="3.9" fill="#486cb0"/><circle cx="577.20" cy="620.63" r="3.9" fill="#378ebb"/><circle cx="592.70" cy="620.63" r="3.9" fill="#5160aa"/><circle cx="608.20" cy="628.85" r="3.9" fill="#b1dfa3"/><circle cx="608.20" cy="637.07" r="3.9" fill="#bce3a0"/><circle cx="608.20" cy="645.30" r="3.9" fill="#d2eb9a"/><circle cx="577.20" cy="653.52" r="3.9" fill="#4ca5b1"/><circle cx="592.70" cy="653.52" r="3.9" fill="#4ca5b1"/><circle cx="530.70" cy="661.75" r="3.9" fill="#4299b6"/><circle cx="577.20" cy="661.75" r="3.9" fill="#555aa7"/><circle cx="499.70" cy="669.97" r="3.9" fill="#74c7a5"/><circle cx="561.70" cy="669.97" r="3.9" fill="#82cda5"/><circle cx="592.70" cy="669.97" r="3.9" fill="#4ca5b1"/><circle cx="499.70" cy="678.19" r="3.9" fill="#c7e79d"/><circle cx="515.20" cy="686.42" r="3.9" fill="#fbdc87"/><circle cx="546.20" cy="686.42" r="3.9" fill="#74c7a5"/><circle cx="577.20" cy="686.42" r="3.9" fill="#eaf29b"/><circle cx="592.70" cy="686.42" r="3.9" fill="#fbdc87"/><circle cx="608.20" cy="686.42" r="3.9" fill="#fbd37f"/><circle cx="623.70" cy="686.42" r="3.9" fill="#fdb769"/><circle cx="546.20" cy="694.64" r="3.9" fill="#d2eb9a"/><circle cx="530.70" cy="702.87" r="3.9" fill="#e3f196"/><circle cx="530.70" cy="711.09" r="3.9" fill="#cde99c"/><circle cx="546.20" cy="711.09" r="3.9" fill="#74c7a5"/><circle cx="530.70" cy="719.31" r="3.9" fill="#4c66ad"/><circle cx="499.70" cy="727.54" r="3.9" fill="#5e4fa2"/><circle cx="577.20" cy="735.76" r="3.9" fill="#56b1ac"/><circle cx="592.70" cy="735.76" r="3.9" fill="#61bca7"/><circle cx="530.70" cy="743.98" r="3.9" fill="#fbdc87"/><circle cx="546.20" cy="743.98" r="3.9" fill="#fbe18d"/><circle cx="608.20" cy="743.98" r="3.9" fill="#e7f299"/><circle cx="623.70" cy="743.98" r="3.9" fill="#e3f196"/><circle cx="530.70" cy="752.21" r="3.9" fill="#486cb0"/><circle cx="546.20" cy="752.21" r="3.9" fill="#486cb0"/><circle cx="577.20" cy="760.43" r="3.9" fill="#555aa7"/><circle cx="623.70" cy="768.66" r="3.9" fill="#3682ba"/><circle cx="577.20" cy="776.88" r="3.9" fill="#3288bd"/><circle cx="577.20" cy="785.10" r="3.9" fill="#3288bd"/><circle cx="499.70" cy="793.33" r="3.9" fill="#4471b2"/><circle cx="577.20" cy="801.55" r="3.9" fill="#bce3a0"/><circle cx="592.70" cy="801.55" r="3.9" fill="#74c7a5"/><circle cx="577.20" cy="809.78" r="3.9" fill="#9dd8a4"/><circle cx="592.70" cy="809.78" r="3.9" fill="#abdda4"/><circle cx="515.20" cy="818.00" r="3.9" fill="#c7e79d"/><circle cx="577.20" cy="818.00" r="3.9" fill="#cde99c"/><circle cx="592.70" cy="818.00" r="3.9" fill="#c7e79d"/></g>
<rect x="490.7" y="435.1" width="142.40" height="387.50" fill="none" stroke="#555" stroke-width="1.2"/>
<path d="M487.70 439.70H490.2" stroke="#333" stroke-width="0.8"/>
<text x="485.10" y="442.05" font-size="6.5" text-anchor="end" fill="#000">VTN − (ITGAV+ITGB1)</text>
<path d="M487.70 447.92H490.2" stroke="#333" stroke-width="0.8"/>
<text x="485.10" y="450.27" font-size="6.5" text-anchor="end" fill="#000">SPP1 − CD44</text>
<path d="M487.70 456.15H490.2" stroke="#333" stroke-width="0.8"/>
<text x="485.10" y="458.50" font-size="6.5" text-anchor="end" fill="#000">SPP1 − (ITGAV+ITGB1)</text>
<path d="M487.70 464.37H490.2" stroke="#333" stroke-width="0.8"/>
<text x="485.10" y="466.72" font-size="6.5" text-anchor="end" fill="#000">SPP1 − (ITGA5+ITGB1)</text>
<path d="M487.70 472.60H490.2" stroke="#333" stroke-width="0.8"/>
<text x="485.10" y="474.95" font-size="6.5" text-anchor="end" fill="#000">PROS1 − AXL</text>
<path d="M487.70 480.82H490.2" stroke="#333" stroke-width="0.8"/>
<text x="485.10" y="483.17" font-size="6.5" text-anchor="end" fill="#000">PLG − F2RL3</text>
<path d="M487.70 489.04H490.2" stroke="#333" stroke-width="0.8"/>
<text x="485.10" y="491.39" font-size="6.5" text-anchor="end" fill="#000">NAMPT − INSR</text>
<path d="M487.70 497.27H490.2" stroke="#333" stroke-width="0.8"/>
<text x="485.10" y="499.62" font-size="6.5" text-anchor="end" fill="#000">NAMPT − (ITGA5+ITGB1)</text>
<path d="M487.70 505.49H490.2" stroke="#333" stroke-width="0.8"/>
<text x="485.10" y="507.84" font-size="6.5" text-anchor="end" fill="#000">MIF − (CD74+CXCR4)</text>
<path d="M487.70 513.72H490.2" stroke="#333" stroke-width="0.8"/>
<text x="485.10" y="516.07" font-size="6.5" text-anchor="end" fill="#000">MIF − (CD74+CD44)</text>
<path d="M487.70 521.94H490.2" stroke="#333" stroke-width="0.8"/>
<text x="485.10" y="524.29" font-size="6.5" text-anchor="end" fill="#000">MDK − SDC4</text>
<path d="M487.70 530.16H490.2" stroke="#333" stroke-width="0.8"/>
<text x="485.10" y="532.51" font-size="6.5" text-anchor="end" fill="#000">MDK − SDC2</text>
<path d="M487.70 538.39H490.2" stroke="#333" stroke-width="0.8"/>
<text x="485.10" y="540.74" font-size="6.5" text-anchor="end" fill="#000">MDK − SDC1</text>
<path d="M487.70 546.61H490.2" stroke="#333" stroke-width="0.8"/>
<text x="485.10" y="548.96" font-size="6.5" text-anchor="end" fill="#000">MDK − NCL</text>
<path d="M487.70 554.83H490.2" stroke="#333" stroke-width="0.8"/>
<text x="485.10" y="557.18" font-size="6.5" text-anchor="end" fill="#000">MDK − LRP1</text>
<path d="M487.70 563.06H490.2" stroke="#333" stroke-width="0.8"/>
<text x="485.10" y="565.41" font-size="6.5" text-anchor="end" fill="#000">MDK − (ITGA6+ITGB1)</text>
<path d="M487.70 571.28H490.2" stroke="#333" stroke-width="0.8"/>
<text x="485.10" y="573.63" font-size="6.5" text-anchor="end" fill="#000">HLA−E − CD8A</text>
<path d="M487.70 579.51H490.2" stroke="#333" stroke-width="0.8"/>
<text x="485.10" y="581.86" font-size="6.5" text-anchor="end" fill="#000">HLA−DRB1 − CD4</text>
<path d="M487.70 587.73H490.2" stroke="#333" stroke-width="0.8"/>
<text x="485.10" y="590.08" font-size="6.5" text-anchor="end" fill="#000">HLA−DRA − CD4</text>
<path d="M487.70 595.95H490.2" stroke="#333" stroke-width="0.8"/>
<text x="485.10" y="598.30" font-size="6.5" text-anchor="end" fill="#000">HLA−DQB1 − CD4</text>
<path d="M487.70 604.18H490.2" stroke="#333" stroke-width="0.8"/>
<text x="485.10" y="606.53" font-size="6.5" text-anchor="end" fill="#000">HLA−DPB1 − CD4</text>
<path d="M487.70 612.40H490.2" stroke="#333" stroke-width="0.8"/>
<text x="485.10" y="614.75" font-size="6.5" text-anchor="end" fill="#000">HLA−DPA1 − CD4</text>
<path d="M487.70 620.63H490.2" stroke="#333" stroke-width="0.8"/>
<text x="485.10" y="622.98" font-size="6.5" text-anchor="end" fill="#000">HLA−DMA − CD4</text>
<path d="M487.70 628.85H490.2" stroke="#333" stroke-width="0.8"/>
<text x="485.10" y="631.20" font-size="6.5" text-anchor="end" fill="#000">HLA−C − CD8A</text>
<path d="M487.70 637.07H490.2" stroke="#333" stroke-width="0.8"/>
<text x="485.10" y="639.42" font-size="6.5" text-anchor="end" fill="#000">HLA−B − CD8A</text>
<path d="M487.70 645.30H490.2" stroke="#333" stroke-width="0.8"/>
<text x="485.10" y="647.65" font-size="6.5" text-anchor="end" fill="#000">HLA−A − CD8A</text>
<path d="M487.70 653.52H490.2" stroke="#333" stroke-width="0.8"/>
<text x="485.10" y="655.87" font-size="6.5" text-anchor="end" fill="#000">HC − C5AR1</text>
<path d="M487.70 661.75H490.2" stroke="#333" stroke-width="0.8"/>
<text x="485.10" y="664.10" font-size="6.5" text-anchor="end" fill="#000">GDF15 − TGFBR2</text>
<path d="M487.70 669.97H490.2" stroke="#333" stroke-width="0.8"/>
<text x="485.10" y="672.32" font-size="6.5" text-anchor="end" fill="#000">FN1 − SDC4</text>
<path d="M487.70 678.19H490.2" stroke="#333" stroke-width="0.8"/>
<text x="485.10" y="680.54" font-size="6.5" text-anchor="end" fill="#000">FN1 − SDC1</text>
<path d="M487.70 686.42H490.2" stroke="#333" stroke-width="0.8"/>
<text x="485.10" y="688.77" font-size="6.5" text-anchor="end" fill="#000">FN1 − CD44</text>
<path d="M487.70 694.64H490.2" stroke="#333" stroke-width="0.8"/>
<text x="485.10" y="696.99" font-size="6.5" text-anchor="end" fill="#000">FN1 − (ITGAV+ITGB1)</text>
<path d="M487.70 702.87H490.2" stroke="#333" stroke-width="0.8"/>
<text x="485.10" y="705.22" font-size="6.5" text-anchor="end" fill="#000">FN1 − (ITGA5+ITGB1)</text>
<path d="M487.70 711.09H490.2" stroke="#333" stroke-width="0.8"/>
<text x="485.10" y="713.44" font-size="6.5" text-anchor="end" fill="#000">F2 − F2R</text>
<path d="M487.70 719.31H490.2" stroke="#333" stroke-width="0.8"/>
<text x="485.10" y="721.66" font-size="6.5" text-anchor="end" fill="#000">EFNA1 − EPHA4</text>
<path d="M487.70 727.54H490.2" stroke="#333" stroke-width="0.8"/>
<text x="485.10" y="729.89" font-size="6.5" text-anchor="end" fill="#000">CDH2 − CDH2</text>
<path d="M487.70 735.76H490.2" stroke="#333" stroke-width="0.8"/>
<text x="485.10" y="738.11" font-size="6.5" text-anchor="end" fill="#000">CD99 − PILRA</text>
<path d="M487.70 743.98H490.2" stroke="#333" stroke-width="0.8"/>
<text x="485.10" y="746.33" font-size="6.5" text-anchor="end" fill="#000">CD99 − CD99</text>
<path d="M487.70 752.21H490.2" stroke="#333" stroke-width="0.8"/>
<text x="485.10" y="754.56" font-size="6.5" text-anchor="end" fill="#000">CD46 − JAG1</text>
<path d="M487.70 760.43H490.2" stroke="#333" stroke-width="0.8"/>
<text x="485.10" y="762.78" font-size="6.5" text-anchor="end" fill="#000">CCL3 − CCR1</text>
<path d="M487.70 768.66H490.2" stroke="#333" stroke-width="0.8"/>
<text x="485.10" y="771.01" font-size="6.5" text-anchor="end" fill="#000">CCL20 − CCR6</text>
<path d="M487.70 776.88H490.2" stroke="#333" stroke-width="0.8"/>
<text x="485.10" y="779.23" font-size="6.5" text-anchor="end" fill="#000">CCL16 − CCR1</text>
<path d="M487.70 785.10H490.2" stroke="#333" stroke-width="0.8"/>
<text x="485.10" y="787.45" font-size="6.5" text-anchor="end" fill="#000">CCL15 − CCR1</text>
<path d="M487.70 793.33H490.2" stroke="#333" stroke-width="0.8"/>
<text x="485.10" y="795.68" font-size="6.5" text-anchor="end" fill="#000">CADM1 − CADM1</text>
<path d="M487.70 801.55H490.2" stroke="#333" stroke-width="0.8"/>
<text x="485.10" y="803.90" font-size="6.5" text-anchor="end" fill="#000">C3 − C3AR1</text>
<path d="M487.70 809.78H490.2" stroke="#333" stroke-width="0.8"/>
<text x="485.10" y="812.13" font-size="6.5" text-anchor="end" fill="#000">C3 − (ITGAX+ITGB2)</text>
<path d="M487.70 818.00H490.2" stroke="#333" stroke-width="0.8"/>
<text x="485.10" y="820.35" font-size="6.5" text-anchor="end" fill="#000">APP − CD74</text>
<path d="M499.70 823.1V825.80" stroke="#333" stroke-width="0.8"/>
<text transform="translate(502.15,828.90) rotate(-90)" font-size="7.0" text-anchor="end" fill="#000">Aneuploid −&gt; Aneuploid</text>
<path d="M515.20 823.1V825.80" stroke="#333" stroke-width="0.8"/>
<text transform="translate(517.65,828.90) rotate(-90)" font-size="7.0" text-anchor="end" fill="#000">Aneuploid −&gt; B_cell</text>
<path d="M530.70 823.1V825.80" stroke="#333" stroke-width="0.8"/>
<text transform="translate(533.15,828.90) rotate(-90)" font-size="7.0" text-anchor="end" fill="#000">Aneuploid −&gt; Endothelial_cells</text>
<path d="M546.20 823.1V825.80" stroke="#333" stroke-width="0.8"/>
<text transform="translate(548.65,828.90) rotate(-90)" font-size="7.0" text-anchor="end" fill="#000">Aneuploid −&gt; Fibroblasts</text>
<path d="M561.70 823.1V825.80" stroke="#333" stroke-width="0.8"/>
<text transform="translate(564.15,828.90) rotate(-90)" font-size="7.0" text-anchor="end" fill="#000">Aneuploid −&gt; Hepatocytes</text>
<path d="M577.20 823.1V825.80" stroke="#333" stroke-width="0.8"/>
<text transform="translate(579.65,828.90) rotate(-90)" font-size="7.0" text-anchor="end" fill="#000">Aneuploid −&gt; Macrophage</text>
<path d="M592.70 823.1V825.80" stroke="#333" stroke-width="0.8"/>
<text transform="translate(595.15,828.90) rotate(-90)" font-size="7.0" text-anchor="end" fill="#000">Aneuploid −&gt; Monocyte</text>
<path d="M608.20 823.1V825.80" stroke="#333" stroke-width="0.8"/>
<text transform="translate(610.65,828.90) rotate(-90)" font-size="7.0" text-anchor="end" fill="#000">Aneuploid −&gt; NK_cell</text>
<path d="M623.70 823.1V825.80" stroke="#333" stroke-width="0.8"/>
<text transform="translate(626.15,828.90) rotate(-90)" font-size="7.0" text-anchor="end" fill="#000">Aneuploid −&gt; T_cells</text>
<g><path d="M809.45 435.2V822.6" stroke="#ededf1" stroke-width="0.6"/><path d="M827.56 435.2V822.6" stroke="#ededf1" stroke-width="0.6"/><path d="M845.67 435.2V822.6" stroke="#ededf1" stroke-width="0.6"/><path d="M863.78 435.2V822.6" stroke="#ededf1" stroke-width="0.6"/><path d="M881.89 435.2V822.6" stroke="#ededf1" stroke-width="0.6"/><path d="M900.00 435.2V822.6" stroke="#ededf1" stroke-width="0.6"/><path d="M918.11 435.2V822.6" stroke="#ededf1" stroke-width="0.6"/><path d="M789.4 445.98H938.2" stroke="#ededf1" stroke-width="0.6"/><path d="M789.4 456.15H938.2" stroke="#ededf1" stroke-width="0.6"/><path d="M789.4 466.32H938.2" stroke="#ededf1" stroke-width="0.6"/><path d="M789.4 476.49H938.2" stroke="#ededf1" stroke-width="0.6"/><path d="M789.4 486.65H938.2" stroke="#ededf1" stroke-width="0.6"/><path d="M789.4 496.82H938.2" stroke="#ededf1" stroke-width="0.6"/><path d="M789.4 506.99H938.2" stroke="#ededf1" stroke-width="0.6"/><path d="M789.4 517.16H938.2" stroke="#ededf1" stroke-width="0.6"/><path d="M789.4 527.32H938.2" stroke="#ededf1" stroke-width="0.6"/><path d="M789.4 537.49H938.2" stroke="#ededf1" stroke-width="0.6"/><path d="M789.4 547.66H938.2" stroke="#ededf1" stroke-width="0.6"/><path d="M789.4 557.83H938.2" stroke="#ededf1" stroke-width="0.6"/><path d="M789.4 567.99H938.2" stroke="#ededf1" stroke-width="0.6"/><path d="M789.4 578.16H938.2" stroke="#ededf1" stroke-width="0.6"/><path d="M789.4 588.33H938.2" stroke="#ededf1" stroke-width="0.6"/><path d="M789.4 598.50H938.2" stroke="#ededf1" stroke-width="0.6"/><path d="M789.4 608.66H938.2" stroke="#ededf1" stroke-width="0.6"/><path d="M789.4 618.83H938.2" stroke="#ededf1" stroke-width="0.6"/><path d="M789.4 629.00H938.2" stroke="#ededf1" stroke-width="0.6"/><path d="M789.4 639.17H938.2" stroke="#ededf1" stroke-width="0.6"/><path d="M789.4 649.34H938.2" stroke="#ededf1" stroke-width="0.6"/><path d="M789.4 659.50H938.2" stroke="#ededf1" stroke-width="0.6"/><path d="M789.4 669.67H938.2" stroke="#ededf1" stroke-width="0.6"/><path d="M789.4 679.84H938.2" stroke="#ededf1" stroke-width="0.6"/><path d="M789.4 690.01H938.2" stroke="#ededf1" stroke-width="0.6"/><path d="M789.4 700.17H938.2" stroke="#ededf1" stroke-width="0.6"/><path d="M789.4 710.34H938.2" stroke="#ededf1" stroke-width="0.6"/><path d="M789.4 720.51H938.2" stroke="#ededf1" stroke-width="0.6"/><path d="M789.4 730.68H938.2" stroke="#ededf1" stroke-width="0.6"/><path d="M789.4 740.84H938.2" stroke="#ededf1" stroke-width="0.6"/><path d="M789.4 751.01H938.2" stroke="#ededf1" stroke-width="0.6"/><path d="M789.4 761.18H938.2" stroke="#ededf1" stroke-width="0.6"/><path d="M789.4 771.35H938.2" stroke="#ededf1" stroke-width="0.6"/><path d="M789.4 781.51H938.2" stroke="#ededf1" stroke-width="0.6"/><path d="M789.4 791.68H938.2" stroke="#ededf1" stroke-width="0.6"/><path d="M789.4 801.85H938.2" stroke="#ededf1" stroke-width="0.6"/><path d="M789.4 812.02H938.2" stroke="#ededf1" stroke-width="0.6"/></g>
<g><circle cx="836.62" cy="440.90" r="3.8" fill="#486cb0"/><circle cx="836.62" cy="451.07" r="3.8" fill="#479fb3"/><circle cx="836.62" cy="461.24" r="3.8" fill="#486cb0"/><circle cx="836.62" cy="471.40" r="3.8" fill="#486cb0"/><circle cx="836.62" cy="481.57" r="3.8" fill="#479fb3"/><circle cx="836.62" cy="491.74" r="3.8" fill="#486cb0"/><circle cx="836.62" cy="501.91" r="3.8" fill="#486cb0"/><circle cx="836.62" cy="512.07" r="3.8" fill="#74c7a5"/><circle cx="836.62" cy="522.24" r="3.8" fill="#4299b6"/><circle cx="836.62" cy="532.41" r="3.8" fill="#51abaf"/><circle cx="800.40" cy="542.58" r="3.8" fill="#3682ba"/><circle cx="818.51" cy="542.58" r="3.8" fill="#4c66ad"/><circle cx="836.62" cy="542.58" r="3.8" fill="#5a55a5"/><circle cx="854.73" cy="542.58" r="3.8" fill="#555aa7"/><circle cx="872.84" cy="542.58" r="3.8" fill="#66c2a5"/><circle cx="890.95" cy="542.58" r="3.8" fill="#66c2a5"/><circle cx="909.06" cy="542.58" r="3.8" fill="#4c66ad"/><circle cx="927.17" cy="542.58" r="3.8" fill="#486cb0"/><circle cx="800.40" cy="552.74" r="3.8" fill="#66c2a5"/><circle cx="818.51" cy="552.74" r="3.8" fill="#3f77b5"/><circle cx="836.62" cy="552.74" r="3.8" fill="#3682ba"/><circle cx="854.73" cy="552.74" r="3.8" fill="#96d5a4"/><circle cx="800.40" cy="562.91" r="3.8" fill="#fcc574"/><circle cx="818.51" cy="562.91" r="3.8" fill="#88d0a4"/><circle cx="836.62" cy="562.91" r="3.8" fill="#abdda4"/><circle cx="854.73" cy="562.91" r="3.8" fill="#f46d43"/><circle cx="800.40" cy="573.08" r="3.8" fill="#c7e79d"/><circle cx="818.51" cy="573.08" r="3.8" fill="#479fb3"/><circle cx="836.62" cy="573.08" r="3.8" fill="#61bca7"/><circle cx="854.73" cy="573.08" r="3.8" fill="#fbe18d"/><circle cx="800.40" cy="583.25" r="3.8" fill="#e7f299"/><circle cx="836.62" cy="583.25" r="3.8" fill="#74c7a5"/><circle cx="854.73" cy="583.25" r="3.8" fill="#fcc070"/><circle cx="800.40" cy="593.41" r="3.8" fill="#96d5a4"/><circle cx="818.51" cy="593.41" r="3.8" fill="#56b1ac"/><circle cx="836.62" cy="593.41" r="3.8" fill="#abdda4"/><circle cx="854.73" cy="593.41" r="3.8" fill="#3b7db8"/><circle cx="872.84" cy="593.41" r="3.8" fill="#486cb0"/><circle cx="890.95" cy="593.41" r="3.8" fill="#4c66ad"/><circle cx="800.40" cy="603.58" r="3.8" fill="#fae693"/><circle cx="818.51" cy="603.58" r="3.8" fill="#abdda4"/><circle cx="836.62" cy="603.58" r="3.8" fill="#fbdc87"/><circle cx="854.73" cy="603.58" r="3.8" fill="#4ca5b1"/><circle cx="872.84" cy="603.58" r="3.8" fill="#3c94b8"/><circle cx="890.95" cy="603.58" r="3.8" fill="#3288bd"/><circle cx="836.62" cy="613.75" r="3.8" fill="#61bca7"/><circle cx="836.62" cy="623.92" r="3.8" fill="#abdda4"/><circle cx="818.51" cy="634.08" r="3.8" fill="#3f77b5"/><circle cx="836.62" cy="634.08" r="3.8" fill="#abdda4"/><circle cx="818.51" cy="644.25" r="3.8" fill="#479fb3"/><circle cx="836.62" cy="644.25" r="3.8" fill="#fae490"/><circle cx="836.62" cy="654.42" r="3.8" fill="#66c2a5"/><circle cx="836.62" cy="664.59" r="3.8" fill="#d2eb9a"/><circle cx="818.51" cy="674.75" r="3.8" fill="#7bcaa5"/><circle cx="836.62" cy="674.75" r="3.8" fill="#96d5a4"/><circle cx="818.51" cy="684.92" r="3.8" fill="#e3f196"/><circle cx="836.62" cy="684.92" r="3.8" fill="#fae693"/><circle cx="818.51" cy="695.09" r="3.8" fill="#82cda5"/><circle cx="836.62" cy="695.09" r="3.8" fill="#8fd2a4"/><circle cx="818.51" cy="705.26" r="3.8" fill="#e7f299"/><circle cx="836.62" cy="705.26" r="3.8" fill="#f9f6a6"/><circle cx="836.62" cy="715.42" r="3.8" fill="#b6e1a1"/><circle cx="836.62" cy="725.59" r="3.8" fill="#fcc574"/><circle cx="836.62" cy="735.76" r="3.8" fill="#88d0a4"/><circle cx="836.62" cy="745.93" r="3.8" fill="#e7f299"/><circle cx="800.40" cy="756.09" r="3.8" fill="#5e4fa2"/><circle cx="818.51" cy="766.26" r="3.8" fill="#fba15b"/><circle cx="836.62" cy="766.26" r="3.8" fill="#fcbc6c"/><circle cx="909.06" cy="766.26" r="3.8" fill="#fbd37f"/><circle cx="927.17" cy="766.26" r="3.8" fill="#fae490"/><circle cx="800.40" cy="776.43" r="3.8" fill="#3b7db8"/><circle cx="818.51" cy="786.60" r="3.8" fill="#9e0142"/><circle cx="836.62" cy="786.60" r="3.8" fill="#fa9a58"/><circle cx="836.62" cy="796.76" r="3.8" fill="#3f77b5"/><circle cx="854.73" cy="796.76" r="3.8" fill="#5160aa"/><circle cx="836.62" cy="806.93" r="3.8" fill="#7bcaa5"/><circle cx="854.73" cy="806.93" r="3.8" fill="#56b1ac"/><circle cx="836.62" cy="817.10" r="3.8" fill="#4299b6"/><circle cx="854.73" cy="817.10" r="3.8" fill="#3288bd"/></g>
<rect x="789.4" y="435.2" width="148.80" height="387.40" fill="none" stroke="#555" stroke-width="1.2"/>
<path d="M786.40 440.90H788.9" stroke="#333" stroke-width="0.8"/>
<text x="783.80" y="443.25" font-size="6.5" text-anchor="end" fill="#000">THBS2 − SDC4</text>
<path d="M786.40 451.07H788.9" stroke="#333" stroke-width="0.8"/>
<text x="783.80" y="453.42" font-size="6.5" text-anchor="end" fill="#000">THBS2 − SDC1</text>
<path d="M786.40 461.24H788.9" stroke="#333" stroke-width="0.8"/>
<text x="783.80" y="463.59" font-size="6.5" text-anchor="end" fill="#000">THBS2 − CD47</text>
<path d="M786.40 471.40H788.9" stroke="#333" stroke-width="0.8"/>
<text x="783.80" y="473.75" font-size="6.5" text-anchor="end" fill="#000">THBS1 − SDC4</text>
<path d="M786.40 481.57H788.9" stroke="#333" stroke-width="0.8"/>
<text x="783.80" y="483.92" font-size="6.5" text-anchor="end" fill="#000">THBS1 − SDC1</text>
<path d="M786.40 491.74H788.9" stroke="#333" stroke-width="0.8"/>
<text x="783.80" y="494.09" font-size="6.5" text-anchor="end" fill="#000">THBS1 − CD47</text>
<path d="M786.40 501.91H788.9" stroke="#333" stroke-width="0.8"/>
<text x="783.80" y="504.26" font-size="6.5" text-anchor="end" fill="#000">PTN − SDC4</text>
<path d="M786.40 512.07H788.9" stroke="#333" stroke-width="0.8"/>
<text x="783.80" y="514.42" font-size="6.5" text-anchor="end" fill="#000">PTN − SDC2</text>
<path d="M786.40 522.24H788.9" stroke="#333" stroke-width="0.8"/>
<text x="783.80" y="524.59" font-size="6.5" text-anchor="end" fill="#000">PTN − SDC1</text>
<path d="M786.40 532.41H788.9" stroke="#333" stroke-width="0.8"/>
<text x="783.80" y="534.76" font-size="6.5" text-anchor="end" fill="#000">PTN − NCL</text>
<path d="M786.40 542.58H788.9" stroke="#333" stroke-width="0.8"/>
<text x="783.80" y="544.93" font-size="6.5" text-anchor="end" fill="#000">NAMPT − INSR</text>
<path d="M786.40 552.74H788.9" stroke="#333" stroke-width="0.8"/>
<text x="783.80" y="555.09" font-size="6.5" text-anchor="end" fill="#000">MDK − SDC4</text>
<path d="M786.40 562.91H788.9" stroke="#333" stroke-width="0.8"/>
<text x="783.80" y="565.26" font-size="6.5" text-anchor="end" fill="#000">MDK − SDC2</text>
<path d="M786.40 573.08H788.9" stroke="#333" stroke-width="0.8"/>
<text x="783.80" y="575.43" font-size="6.5" text-anchor="end" fill="#000">MDK − SDC1</text>
<path d="M786.40 583.25H788.9" stroke="#333" stroke-width="0.8"/>
<text x="783.80" y="585.60" font-size="6.5" text-anchor="end" fill="#000">MDK − NCL</text>
<path d="M786.40 593.41H788.9" stroke="#333" stroke-width="0.8"/>
<text x="783.80" y="595.76" font-size="6.5" text-anchor="end" fill="#000">FN1 − SDC4</text>
<path d="M786.40 603.58H788.9" stroke="#333" stroke-width="0.8"/>
<text x="783.80" y="605.93" font-size="6.5" text-anchor="end" fill="#000">FN1 − SDC1</text>
<path d="M786.40 613.75H788.9" stroke="#333" stroke-width="0.8"/>
<text x="783.80" y="616.10" font-size="6.5" text-anchor="end" fill="#000">COL6A3 − SDC4</text>
<path d="M786.40 623.92H788.9" stroke="#333" stroke-width="0.8"/>
<text x="783.80" y="626.27" font-size="6.5" text-anchor="end" fill="#000">COL6A3 − SDC1</text>
<path d="M786.40 634.08H788.9" stroke="#333" stroke-width="0.8"/>
<text x="783.80" y="636.43" font-size="6.5" text-anchor="end" fill="#000">COL6A2 − SDC4</text>
<path d="M786.40 644.25H788.9" stroke="#333" stroke-width="0.8"/>
<text x="783.80" y="646.60" font-size="6.5" text-anchor="end" fill="#000">COL6A2 − SDC1</text>
<path d="M786.40 654.42H788.9" stroke="#333" stroke-width="0.8"/>
<text x="783.80" y="656.77" font-size="6.5" text-anchor="end" fill="#000">COL6A1 − SDC4</text>
<path d="M786.40 664.59H788.9" stroke="#333" stroke-width="0.8"/>
<text x="783.80" y="666.94" font-size="6.5" text-anchor="end" fill="#000">COL6A1 − SDC1</text>
<path d="M786.40 674.75H788.9" stroke="#333" stroke-width="0.8"/>
<text x="783.80" y="677.10" font-size="6.5" text-anchor="end" fill="#000">COL4A2 − SDC4</text>
<path d="M786.40 684.92H788.9" stroke="#333" stroke-width="0.8"/>
<text x="783.80" y="687.27" font-size="6.5" text-anchor="end" fill="#000">COL4A2 − SDC1</text>
<path d="M786.40 695.09H788.9" stroke="#333" stroke-width="0.8"/>
<text x="783.80" y="697.44" font-size="6.5" text-anchor="end" fill="#000">COL4A1 − SDC4</text>
<path d="M786.40 705.26H788.9" stroke="#333" stroke-width="0.8"/>
<text x="783.80" y="707.61" font-size="6.5" text-anchor="end" fill="#000">COL4A1 − SDC1</text>
<path d="M786.40 715.42H788.9" stroke="#333" stroke-width="0.8"/>
<text x="783.80" y="717.77" font-size="6.5" text-anchor="end" fill="#000">COL1A2 − SDC4</text>
<path d="M786.40 725.59H788.9" stroke="#333" stroke-width="0.8"/>
<text x="783.80" y="727.94" font-size="6.5" text-anchor="end" fill="#000">COL1A2 − SDC1</text>
<path d="M786.40 735.76H788.9" stroke="#333" stroke-width="0.8"/>
<text x="783.80" y="738.11" font-size="6.5" text-anchor="end" fill="#000">COL1A1 − SDC4</text>
<path d="M786.40 745.93H788.9" stroke="#333" stroke-width="0.8"/>
<text x="783.80" y="748.28" font-size="6.5" text-anchor="end" fill="#000">COL1A1 − SDC1</text>
<path d="M786.40 756.09H788.9" stroke="#333" stroke-width="0.8"/>
<text x="783.80" y="758.44" font-size="6.5" text-anchor="end" fill="#000">CDH2 − CDH2</text>
<path d="M786.40 766.26H788.9" stroke="#333" stroke-width="0.8"/>
<text x="783.80" y="768.61" font-size="6.5" text-anchor="end" fill="#000">CD99 − CD99</text>
<path d="M786.40 776.43H788.9" stroke="#333" stroke-width="0.8"/>
<text x="783.80" y="778.78" font-size="6.5" text-anchor="end" fill="#000">CADM1 − CADM1</text>
<path d="M786.40 786.60H788.9" stroke="#333" stroke-width="0.8"/>
<text x="783.80" y="788.95" font-size="6.5" text-anchor="end" fill="#000">APP − CD74</text>
<path d="M786.40 796.76H788.9" stroke="#333" stroke-width="0.8"/>
<text x="783.80" y="799.11" font-size="6.5" text-anchor="end" fill="#000">ANGPTL4 − SDC4</text>
<path d="M786.40 806.93H788.9" stroke="#333" stroke-width="0.8"/>
<text x="783.80" y="809.28" font-size="6.5" text-anchor="end" fill="#000">ANGPTL4 − SDC2</text>
<path d="M786.40 817.10H788.9" stroke="#333" stroke-width="0.8"/>
<text x="783.80" y="819.45" font-size="6.5" text-anchor="end" fill="#000">ANGPTL4 − SDC1</text>
<path d="M800.40 823.1V825.80" stroke="#333" stroke-width="0.8"/>
<text transform="translate(802.85,828.90) rotate(-90)" font-size="7.0" text-anchor="end" fill="#000">Aneuploid −&gt; Aneuploid</text>
<path d="M818.51 823.1V825.80" stroke="#333" stroke-width="0.8"/>
<text transform="translate(820.96,828.90) rotate(-90)" font-size="7.0" text-anchor="end" fill="#000">Endothelial_cells −&gt; Aneuploid</text>
<path d="M836.62 823.1V825.80" stroke="#333" stroke-width="0.8"/>
<text transform="translate(839.07,828.90) rotate(-90)" font-size="7.0" text-anchor="end" fill="#000">Fibroblasts −&gt; Aneuploid</text>
<path d="M854.73 823.1V825.80" stroke="#333" stroke-width="0.8"/>
<text transform="translate(857.18,828.90) rotate(-90)" font-size="7.0" text-anchor="end" fill="#000">Hepatocytes −&gt; Aneuploid</text>
<path d="M872.84 823.1V825.80" stroke="#333" stroke-width="0.8"/>
<text transform="translate(875.29,828.90) rotate(-90)" font-size="7.0" text-anchor="end" fill="#000">Macrophage −&gt; Aneuploid</text>
<path d="M890.95 823.1V825.80" stroke="#333" stroke-width="0.8"/>
<text transform="translate(893.40,828.90) rotate(-90)" font-size="7.0" text-anchor="end" fill="#000">Monocyte −&gt; Aneuploid</text>
<path d="M909.06 823.1V825.80" stroke="#333" stroke-width="0.8"/>
<text transform="translate(911.51,828.90) rotate(-90)" font-size="7.0" text-anchor="end" fill="#000">NK_cell −&gt; Aneuploid</text>
<path d="M927.17 823.1V825.80" stroke="#333" stroke-width="0.8"/>
<text transform="translate(929.62,828.90) rotate(-90)" font-size="7.0" text-anchor="end" fill="#000">T_cells −&gt; Aneuploid</text>
<defs><linearGradient id="spec" x1="0" y1="1" x2="0" y2="0"><stop offset="0.00" stop-color="#5e4fa2"/><stop offset="0.10" stop-color="#3288bd"/><stop offset="0.20" stop-color="#66c2a5"/><stop offset="0.30" stop-color="#abdda4"/><stop offset="0.40" stop-color="#e3f196"/><stop offset="0.50" stop-color="#f9f6a6"/><stop offset="0.60" stop-color="#fbdc87"/><stop offset="0.70" stop-color="#fdae61"/><stop offset="0.80" stop-color="#f46d43"/><stop offset="0.90" stop-color="#d53e4f"/><stop offset="1.00" stop-color="#9e0142"/></linearGradient></defs>
<text x="651.2" y="550" font-size="9.2" fill="#000">p−value</text>
<circle cx="660.2" cy="566.2" r="4.0" fill="#000"/>
<text x="674.2" y="568.6" font-size="6.4" fill="#000">p &lt; 0.01</text>
<text x="651.2" y="609" font-size="8.6" fill="#000">Commun. Prob.</text>
<rect x="651.4000000000001" y="615" width="7.6" height="100" fill="url(#spec)"/>
<text x="663.4000000000001" y="618.2" font-size="6.4" fill="#000">max</text>
<text x="663.4000000000001" y="718.3" font-size="6.4" fill="#000">min</text>
<text x="956.6" y="550" font-size="9.2" fill="#000">p−value</text>
<circle cx="965.6" cy="566.2" r="4.0" fill="#000"/>
<text x="979.6" y="568.6" font-size="6.4" fill="#000">p &lt; 0.01</text>
<text x="956.6" y="609" font-size="8.6" fill="#000">Commun. Prob.</text>
<rect x="956.8000000000001" y="615" width="7.6" height="100" fill="url(#spec)"/>
<text x="968.8000000000001" y="618.2" font-size="6.4" fill="#000">max</text>
<text x="968.8000000000001" y="718.3" font-size="6.4" fill="#000">min</text>
</svg>
</body></html>
